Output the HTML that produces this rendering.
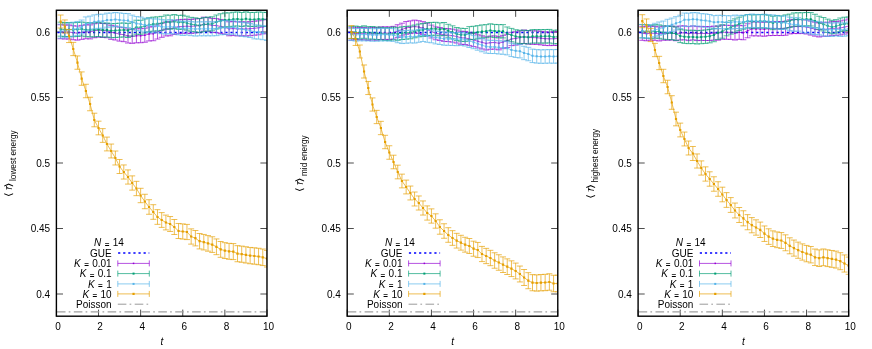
<!DOCTYPE html>
<html><head><meta charset="utf-8"><title>plots</title>
<style>
html,body{margin:0;padding:0;background:#fff;}
svg{display:block;will-change:transform;}
text{font-family:"Liberation Sans","DejaVu Sans",sans-serif;font-size:10px;fill:#000;}
</style></head><body>
<svg width="872" height="349" viewBox="0 0 872 349">
<rect width="872" height="349" fill="#fff"/>
<g>
<path d="M56.4 316.2v-6.6M56.4 10.25v6.6M98.52 316.2v-6.6M98.52 10.25v6.6M140.63 316.2v-6.6M140.63 10.25v6.6M182.75 316.2v-6.6M182.75 10.25v6.6M224.86 316.2v-6.6M224.86 10.25v6.6M266.98 316.2v-6.6M266.98 10.25v6.6M56.4 294h6.6M266.98 294h-6.6M56.4 228.5h6.6M266.98 228.5h-6.6M56.4 163h6.6M266.98 163h-6.6M56.4 97.5h6.6M266.98 97.5h-6.6M56.4 32h6.6M266.98 32h-6.6" stroke="#000" stroke-width="0.7" fill="none"/>
<clipPath id="c0"><rect x="56.4" y="10.25" width="210.58" height="305.95"/></clipPath><g clip-path="url(#c0)">
<line x1="57.4" y1="32.5" x2="266.98" y2="32.5" stroke="#0000ff" stroke-width="1.5" stroke-dasharray="2.2 2.89"/>
<path d="M60.61 24.74V38.74M57.61 24.74h6M57.61 38.74h6M64.82 25.04V39.04M61.82 25.04h6M61.82 39.04h6M69.03 24.97V38.97M66.03 24.97h6M66.03 38.97h6M73.25 25.75V39.75M70.25 25.75h6M70.25 39.75h6M77.46 26.13V40.13M74.46 26.13h6M74.46 40.13h6M81.67 25.35V39.35M78.67 25.35h6M78.67 39.35h6M85.88 24.76V38.76M82.88 24.76h6M82.88 38.76h6M90.09 24.93V38.93M87.09 24.93h6M87.09 38.93h6M94.3 23.76V37.76M91.3 23.76h6M91.3 37.76h6M98.52 23.11V37.11M95.52 23.11h6M95.52 37.11h6M102.73 23.5V37.5M99.73 23.5h6M99.73 37.5h6M106.94 23.72V37.72M103.94 23.72h6M103.94 37.72h6M111.15 25.34V39.34M108.15 25.34h6M108.15 39.34h6M115.36 26V40M112.36 26h6M112.36 40h6M119.57 27.14V41.14M116.57 27.14h6M116.57 41.14h6M123.79 27.68V41.68M120.79 27.68h6M120.79 41.68h6M128 29V43M125 29h6M125 43h6M132.21 29.34V43.34M129.21 29.34h6M129.21 43.34h6M136.42 28.81V42.81M133.42 28.81h6M133.42 42.81h6M140.63 28.74V42.74M137.63 28.74h6M137.63 42.74h6M144.84 28.24V42.24M141.84 28.24h6M141.84 42.24h6M149.06 26.96V40.96M146.06 26.96h6M146.06 40.96h6M153.27 26.72V40.72M150.27 26.72h6M150.27 40.72h6M157.48 25.04V39.04M154.48 25.04h6M154.48 39.04h6M161.69 23.3V37.3M158.69 23.3h6M158.69 37.3h6M165.9 21.94V35.94M162.9 21.94h6M162.9 35.94h6M170.11 21.82V35.82M167.11 21.82h6M167.11 35.82h6M174.32 20.48V34.48M171.32 20.48h6M171.32 34.48h6M178.54 19.71V33.71M175.54 19.71h6M175.54 33.71h6M182.75 19.38V33.38M179.75 19.38h6M179.75 33.38h6M186.96 19.21V33.21M183.96 19.21h6M183.96 33.21h6M191.17 19.42V33.42M188.17 19.42h6M188.17 33.42h6M195.38 18.89V32.89M192.38 18.89h6M192.38 32.89h6M199.59 18.6V32.6M196.59 18.6h6M196.59 32.6h6M203.81 17.15V31.15M200.81 17.15h6M200.81 31.15h6M208.02 17.58V31.58M205.02 17.58h6M205.02 31.58h6M212.23 18.4V32.4M209.23 18.4h6M209.23 32.4h6M216.44 18.6V32.6M213.44 18.6h6M213.44 32.6h6M220.65 19.47V33.47M217.65 19.47h6M217.65 33.47h6M224.86 20.39V34.39M221.86 20.39h6M221.86 34.39h6M229.08 21.79V35.79M226.08 21.79h6M226.08 35.79h6M233.29 21.55V35.55M230.29 21.55h6M230.29 35.55h6M237.5 21.94V35.94M234.5 21.94h6M234.5 35.94h6M241.71 21.75V35.75M238.71 21.75h6M238.71 35.75h6M245.92 22.01V36.01M242.92 22.01h6M242.92 36.01h6M250.13 21.73V35.73M247.13 21.73h6M247.13 35.73h6M254.35 21.25V35.25M251.35 21.25h6M251.35 35.25h6M258.56 20.8V34.8M255.56 20.8h6M255.56 34.8h6M262.77 19.92V33.92M259.77 19.92h6M259.77 33.92h6M266.98 19.2V33.2M263.98 19.2h6M263.98 33.2h6" stroke="#9400d3" stroke-width="0.68" fill="none"/>
<polyline points="60.61,31.74 64.82,32.04 69.03,31.97 73.25,32.75 77.46,33.13 81.67,32.35 85.88,31.76 90.09,31.93 94.3,30.76 98.52,30.11 102.73,30.5 106.94,30.72 111.15,32.34 115.36,33 119.57,34.14 123.79,34.68 128,36 132.21,36.34 136.42,35.81 140.63,35.74 144.84,35.24 149.06,33.96 153.27,33.72 157.48,32.04 161.69,30.3 165.9,28.94 170.11,28.82 174.32,27.48 178.54,26.71 182.75,26.38 186.96,26.21 191.17,26.42 195.38,25.89 199.59,25.6 203.81,24.15 208.02,24.58 212.23,25.4 216.44,25.6 220.65,26.47 224.86,27.39 229.08,28.79 233.29,28.55 237.5,28.94 241.71,28.75 245.92,29.01 250.13,28.73 254.35,28.25 258.56,27.8 262.77,26.92 266.98,26.2" stroke="#9400d3" stroke-width="0.68" fill="none"/>
<path d="M59.86 30.99h1.5v1.5h-1.5zM64.07 31.29h1.5v1.5h-1.5zM68.28 31.22h1.5v1.5h-1.5zM72.5 32h1.5v1.5h-1.5zM76.71 32.38h1.5v1.5h-1.5zM80.92 31.6h1.5v1.5h-1.5zM85.13 31.01h1.5v1.5h-1.5zM89.34 31.18h1.5v1.5h-1.5zM93.55 30.01h1.5v1.5h-1.5zM97.77 29.36h1.5v1.5h-1.5zM101.98 29.75h1.5v1.5h-1.5zM106.19 29.97h1.5v1.5h-1.5zM110.4 31.59h1.5v1.5h-1.5zM114.61 32.25h1.5v1.5h-1.5zM118.82 33.39h1.5v1.5h-1.5zM123.04 33.93h1.5v1.5h-1.5zM127.25 35.25h1.5v1.5h-1.5zM131.46 35.59h1.5v1.5h-1.5zM135.67 35.06h1.5v1.5h-1.5zM139.88 34.99h1.5v1.5h-1.5zM144.09 34.49h1.5v1.5h-1.5zM148.31 33.21h1.5v1.5h-1.5zM152.52 32.97h1.5v1.5h-1.5zM156.73 31.29h1.5v1.5h-1.5zM160.94 29.55h1.5v1.5h-1.5zM165.15 28.19h1.5v1.5h-1.5zM169.36 28.07h1.5v1.5h-1.5zM173.57 26.73h1.5v1.5h-1.5zM177.79 25.96h1.5v1.5h-1.5zM182 25.63h1.5v1.5h-1.5zM186.21 25.46h1.5v1.5h-1.5zM190.42 25.67h1.5v1.5h-1.5zM194.63 25.14h1.5v1.5h-1.5zM198.84 24.85h1.5v1.5h-1.5zM203.06 23.4h1.5v1.5h-1.5zM207.27 23.83h1.5v1.5h-1.5zM211.48 24.65h1.5v1.5h-1.5zM215.69 24.85h1.5v1.5h-1.5zM219.9 25.72h1.5v1.5h-1.5zM224.11 26.64h1.5v1.5h-1.5zM228.33 28.04h1.5v1.5h-1.5zM232.54 27.8h1.5v1.5h-1.5zM236.75 28.19h1.5v1.5h-1.5zM240.96 28h1.5v1.5h-1.5zM245.17 28.26h1.5v1.5h-1.5zM249.38 27.98h1.5v1.5h-1.5zM253.6 27.5h1.5v1.5h-1.5zM257.81 27.05h1.5v1.5h-1.5zM262.02 26.17h1.5v1.5h-1.5zM266.23 25.45h1.5v1.5h-1.5z" fill="#9400d3"/>
<path d="M60.61 22.18V36.18M57.61 22.18h6M57.61 36.18h6M64.82 22.52V36.52M61.82 22.52h6M61.82 36.52h6M69.03 22.53V36.53M66.03 22.53h6M66.03 36.53h6M73.25 22.73V36.73M70.25 22.73h6M70.25 36.73h6M77.46 22.47V36.47M74.46 22.47h6M74.46 36.47h6M81.67 22.01V36.01M78.67 22.01h6M78.67 36.01h6M85.88 22.73V36.73M82.88 22.73h6M82.88 36.73h6M90.09 22.86V36.86M87.09 22.86h6M87.09 36.86h6M94.3 22.84V36.84M91.3 22.84h6M91.3 36.84h6M98.52 22.57V36.57M95.52 22.57h6M95.52 36.57h6M102.73 23.06V37.06M99.73 23.06h6M99.73 37.06h6M106.94 23.02V37.02M103.94 23.02h6M103.94 37.02h6M111.15 23.73V37.73M108.15 23.73h6M108.15 37.73h6M115.36 23.47V37.47M112.36 23.47h6M112.36 37.47h6M119.57 23.18V37.18M116.57 23.18h6M116.57 37.18h6M123.79 22.96V36.96M120.79 22.96h6M120.79 36.96h6M128 23.46V37.46M125 23.46h6M125 37.46h6M132.21 22.1V36.1M129.21 22.1h6M129.21 36.1h6M136.42 20.23V34.23M133.42 20.23h6M133.42 34.23h6M140.63 20.3V34.3M137.63 20.3h6M137.63 34.3h6M144.84 19.01V33.01M141.84 19.01h6M141.84 33.01h6M149.06 17.78V31.78M146.06 17.78h6M146.06 31.78h6M153.27 17.11V31.11M150.27 17.11h6M150.27 31.11h6M157.48 16.86V30.86M154.48 16.86h6M154.48 30.86h6M161.69 16.37V30.37M158.69 16.37h6M158.69 30.37h6M165.9 15.01V29.01M162.9 15.01h6M162.9 29.01h6M170.11 15.18V29.18M167.11 15.18h6M167.11 29.18h6M174.32 14.56V28.56M171.32 14.56h6M171.32 28.56h6M178.54 15.36V29.36M175.54 15.36h6M175.54 29.36h6M182.75 15.2V29.2M179.75 15.2h6M179.75 29.2h6M186.96 16.16V30.16M183.96 16.16h6M183.96 30.16h6M191.17 17.33V31.33M188.17 17.33h6M188.17 31.33h6M195.38 17.84V31.84M192.38 17.84h6M192.38 31.84h6M199.59 18.47V32.47M196.59 18.47h6M196.59 32.47h6M203.81 17.61V31.61M200.81 17.61h6M200.81 31.61h6M208.02 17.08V31.08M205.02 17.08h6M205.02 31.08h6M212.23 16.79V30.79M209.23 16.79h6M209.23 30.79h6M216.44 15.03V29.03M213.44 15.03h6M213.44 29.03h6M220.65 13.76V27.76M217.65 13.76h6M217.65 27.76h6M224.86 12.91V26.91M221.86 12.91h6M221.86 26.91h6M229.08 12.85V26.85M226.08 12.85h6M226.08 26.85h6M233.29 12.24V26.24M230.29 12.24h6M230.29 26.24h6M237.5 11.93V25.93M234.5 11.93h6M234.5 25.93h6M241.71 12.5V26.5M238.71 12.5h6M238.71 26.5h6M245.92 11.81V25.81M242.92 11.81h6M242.92 25.81h6M250.13 12.46V26.46M247.13 12.46h6M247.13 26.46h6M254.35 12.43V26.43M251.35 12.43h6M251.35 26.43h6M258.56 11.99V25.99M255.56 11.99h6M255.56 25.99h6M262.77 12.22V26.22M259.77 12.22h6M259.77 26.22h6M266.98 12.52V26.52M263.98 12.52h6M263.98 26.52h6" stroke="#009e73" stroke-width="0.68" fill="none"/>
<polyline points="60.61,29.18 64.82,29.52 69.03,29.53 73.25,29.73 77.46,29.47 81.67,29.01 85.88,29.73 90.09,29.86 94.3,29.84 98.52,29.57 102.73,30.06 106.94,30.02 111.15,30.73 115.36,30.47 119.57,30.18 123.79,29.96 128,30.46 132.21,29.1 136.42,27.23 140.63,27.3 144.84,26.01 149.06,24.78 153.27,24.11 157.48,23.86 161.69,23.37 165.9,22.01 170.11,22.18 174.32,21.56 178.54,22.36 182.75,22.2 186.96,23.16 191.17,24.33 195.38,24.84 199.59,25.47 203.81,24.61 208.02,24.08 212.23,23.79 216.44,22.03 220.65,20.76 224.86,19.91 229.08,19.85 233.29,19.24 237.5,18.93 241.71,19.5 245.92,18.81 250.13,19.46 254.35,19.43 258.56,18.99 262.77,19.22 266.98,19.52" stroke="#009e73" stroke-width="0.68" fill="none"/>
<path d="M59.61 28.18h2.0v2.0h-2.0zM63.82 28.52h2.0v2.0h-2.0zM68.03 28.53h2.0v2.0h-2.0zM72.25 28.73h2.0v2.0h-2.0zM76.46 28.47h2.0v2.0h-2.0zM80.67 28.01h2.0v2.0h-2.0zM84.88 28.73h2.0v2.0h-2.0zM89.09 28.86h2.0v2.0h-2.0zM93.3 28.84h2.0v2.0h-2.0zM97.52 28.57h2.0v2.0h-2.0zM101.73 29.06h2.0v2.0h-2.0zM105.94 29.02h2.0v2.0h-2.0zM110.15 29.73h2.0v2.0h-2.0zM114.36 29.47h2.0v2.0h-2.0zM118.57 29.18h2.0v2.0h-2.0zM122.79 28.96h2.0v2.0h-2.0zM127 29.46h2.0v2.0h-2.0zM131.21 28.1h2.0v2.0h-2.0zM135.42 26.23h2.0v2.0h-2.0zM139.63 26.3h2.0v2.0h-2.0zM143.84 25.01h2.0v2.0h-2.0zM148.06 23.78h2.0v2.0h-2.0zM152.27 23.11h2.0v2.0h-2.0zM156.48 22.86h2.0v2.0h-2.0zM160.69 22.37h2.0v2.0h-2.0zM164.9 21.01h2.0v2.0h-2.0zM169.11 21.18h2.0v2.0h-2.0zM173.32 20.56h2.0v2.0h-2.0zM177.54 21.36h2.0v2.0h-2.0zM181.75 21.2h2.0v2.0h-2.0zM185.96 22.16h2.0v2.0h-2.0zM190.17 23.33h2.0v2.0h-2.0zM194.38 23.84h2.0v2.0h-2.0zM198.59 24.47h2.0v2.0h-2.0zM202.81 23.61h2.0v2.0h-2.0zM207.02 23.08h2.0v2.0h-2.0zM211.23 22.79h2.0v2.0h-2.0zM215.44 21.03h2.0v2.0h-2.0zM219.65 19.76h2.0v2.0h-2.0zM223.86 18.91h2.0v2.0h-2.0zM228.08 18.85h2.0v2.0h-2.0zM232.29 18.24h2.0v2.0h-2.0zM236.5 17.93h2.0v2.0h-2.0zM240.71 18.5h2.0v2.0h-2.0zM244.92 17.81h2.0v2.0h-2.0zM249.13 18.46h2.0v2.0h-2.0zM253.35 18.43h2.0v2.0h-2.0zM257.56 17.99h2.0v2.0h-2.0zM261.77 18.22h2.0v2.0h-2.0zM265.98 18.52h2.0v2.0h-2.0z" fill="#009e73"/>
<path d="M60.61 24.14V38.14M57.61 24.14h6M57.61 38.14h6M64.82 23.7V37.7M61.82 23.7h6M61.82 37.7h6M69.03 23.06V37.06M66.03 23.06h6M66.03 37.06h6M73.25 22.2V36.2M70.25 22.2h6M70.25 36.2h6M77.46 21.44V35.44M74.46 21.44h6M74.46 35.44h6M81.67 20.01V34.01M78.67 20.01h6M78.67 34.01h6M85.88 16.93V30.93M82.88 16.93h6M82.88 30.93h6M90.09 16.09V30.09M87.09 16.09h6M87.09 30.09h6M94.3 14.87V28.87M91.3 14.87h6M91.3 28.87h6M98.52 14.3V28.3M95.52 14.3h6M95.52 28.3h6M102.73 14.2V28.2M99.73 14.2h6M99.73 28.2h6M106.94 13.12V27.12M103.94 13.12h6M103.94 27.12h6M111.15 13.05V27.05M108.15 13.05h6M108.15 27.05h6M115.36 12.51V26.51M112.36 12.51h6M112.36 26.51h6M119.57 12.92V26.92M116.57 12.92h6M116.57 26.92h6M123.79 13.42V27.42M120.79 13.42h6M120.79 27.42h6M128 13.61V27.61M125 13.61h6M125 27.61h6M132.21 15.14V29.14M129.21 15.14h6M129.21 29.14h6M136.42 16.55V30.55M133.42 16.55h6M133.42 30.55h6M140.63 17.06V31.06M137.63 17.06h6M137.63 31.06h6M144.84 18.1V32.1M141.84 18.1h6M141.84 32.1h6M149.06 18.28V32.28M146.06 18.28h6M146.06 32.28h6M153.27 18.88V32.88M150.27 18.88h6M150.27 32.88h6M157.48 18.97V32.97M154.48 18.97h6M154.48 32.97h6M161.69 19.71V33.71M158.69 19.71h6M158.69 33.71h6M165.9 20.07V34.07M162.9 20.07h6M162.9 34.07h6M170.11 19.66V33.66M167.11 19.66h6M167.11 33.66h6M174.32 19.99V33.99M171.32 19.99h6M171.32 33.99h6M178.54 20.89V34.89M175.54 20.89h6M175.54 34.89h6M182.75 21.46V35.46M179.75 21.46h6M179.75 35.46h6M186.96 21.1V35.1M183.96 21.1h6M183.96 35.1h6M191.17 21.67V35.67M188.17 21.67h6M188.17 35.67h6M195.38 22.06V36.06M192.38 22.06h6M192.38 36.06h6M199.59 21.82V35.82M196.59 21.82h6M196.59 35.82h6M203.81 21.86V35.86M200.81 21.86h6M200.81 35.86h6M208.02 21.81V35.81M205.02 21.81h6M205.02 35.81h6M212.23 21.87V35.87M209.23 21.87h6M209.23 35.87h6M216.44 21.67V35.67M213.44 21.67h6M213.44 35.67h6M220.65 20.8V34.8M217.65 20.8h6M217.65 34.8h6M224.86 20.6V34.6M221.86 20.6h6M221.86 34.6h6M229.08 20.8V34.8M226.08 20.8h6M226.08 34.8h6M233.29 20.12V34.12M230.29 20.12h6M230.29 34.12h6M237.5 21.28V35.28M234.5 21.28h6M234.5 35.28h6M241.71 22.37V36.37M238.71 22.37h6M238.71 36.37h6M245.92 22.81V36.81M242.92 22.81h6M242.92 36.81h6M250.13 23.49V37.49M247.13 23.49h6M247.13 37.49h6M254.35 24.88V38.88M251.35 24.88h6M251.35 38.88h6M258.56 25.08V39.08M255.56 25.08h6M255.56 39.08h6M262.77 25.69V39.69M259.77 25.69h6M259.77 39.69h6M266.98 26.44V40.44M263.98 26.44h6M263.98 40.44h6" stroke="#56b4e9" stroke-width="0.68" fill="none"/>
<polyline points="60.61,31.14 64.82,30.7 69.03,30.06 73.25,29.2 77.46,28.44 81.67,27.01 85.88,23.93 90.09,23.09 94.3,21.87 98.52,21.3 102.73,21.2 106.94,20.12 111.15,20.05 115.36,19.51 119.57,19.92 123.79,20.42 128,20.61 132.21,22.14 136.42,23.55 140.63,24.06 144.84,25.1 149.06,25.28 153.27,25.88 157.48,25.97 161.69,26.71 165.9,27.07 170.11,26.66 174.32,26.99 178.54,27.89 182.75,28.46 186.96,28.1 191.17,28.67 195.38,29.06 199.59,28.82 203.81,28.86 208.02,28.81 212.23,28.87 216.44,28.67 220.65,27.8 224.86,27.6 229.08,27.8 233.29,27.12 237.5,28.28 241.71,29.37 245.92,29.81 250.13,30.49 254.35,31.88 258.56,32.08 262.77,32.69 266.98,33.44" stroke="#56b4e9" stroke-width="0.68" fill="none"/>
<path d="M59.61 30.14h2.0v2.0h-2.0zM63.82 29.7h2.0v2.0h-2.0zM68.03 29.06h2.0v2.0h-2.0zM72.25 28.2h2.0v2.0h-2.0zM76.46 27.44h2.0v2.0h-2.0zM80.67 26.01h2.0v2.0h-2.0zM84.88 22.93h2.0v2.0h-2.0zM89.09 22.09h2.0v2.0h-2.0zM93.3 20.87h2.0v2.0h-2.0zM97.52 20.3h2.0v2.0h-2.0zM101.73 20.2h2.0v2.0h-2.0zM105.94 19.12h2.0v2.0h-2.0zM110.15 19.05h2.0v2.0h-2.0zM114.36 18.51h2.0v2.0h-2.0zM118.57 18.92h2.0v2.0h-2.0zM122.79 19.42h2.0v2.0h-2.0zM127 19.61h2.0v2.0h-2.0zM131.21 21.14h2.0v2.0h-2.0zM135.42 22.55h2.0v2.0h-2.0zM139.63 23.06h2.0v2.0h-2.0zM143.84 24.1h2.0v2.0h-2.0zM148.06 24.28h2.0v2.0h-2.0zM152.27 24.88h2.0v2.0h-2.0zM156.48 24.97h2.0v2.0h-2.0zM160.69 25.71h2.0v2.0h-2.0zM164.9 26.07h2.0v2.0h-2.0zM169.11 25.66h2.0v2.0h-2.0zM173.32 25.99h2.0v2.0h-2.0zM177.54 26.89h2.0v2.0h-2.0zM181.75 27.46h2.0v2.0h-2.0zM185.96 27.1h2.0v2.0h-2.0zM190.17 27.67h2.0v2.0h-2.0zM194.38 28.06h2.0v2.0h-2.0zM198.59 27.82h2.0v2.0h-2.0zM202.81 27.86h2.0v2.0h-2.0zM207.02 27.81h2.0v2.0h-2.0zM211.23 27.87h2.0v2.0h-2.0zM215.44 27.67h2.0v2.0h-2.0zM219.65 26.8h2.0v2.0h-2.0zM223.86 26.6h2.0v2.0h-2.0zM228.08 26.8h2.0v2.0h-2.0zM232.29 26.12h2.0v2.0h-2.0zM236.5 27.28h2.0v2.0h-2.0zM240.71 28.37h2.0v2.0h-2.0zM244.92 28.81h2.0v2.0h-2.0zM249.13 29.49h2.0v2.0h-2.0zM253.35 30.88h2.0v2.0h-2.0zM257.56 31.08h2.0v2.0h-2.0zM261.77 31.69h2.0v2.0h-2.0zM265.98 32.44h2.0v2.0h-2.0z" fill="#56b4e9"/>
<path d="M60.61 15V28M57.61 15h6M57.61 28h6M64.82 19.96V33.04M61.82 19.96h6M61.82 33.04h6M69.03 29.43V42.57M66.03 29.43h6M66.03 42.57h6M73.25 42.39V55.61M70.25 42.39h6M70.25 55.61h6M77.46 55.95V69.25M74.46 55.95h6M74.46 69.25h6M81.67 71.92V85.28M78.67 71.92h6M78.67 85.28h6M85.88 84.28V97.72M82.88 84.28h6M82.88 97.72h6M90.09 97.24V110.76M87.09 97.24h6M87.09 110.76h6M94.3 113.21V126.79M91.3 113.21h6M91.3 126.79h6M98.52 121.17V134.83M95.52 121.17h6M95.52 134.83h6M102.73 128.63V142.37M99.73 128.63h6M99.73 142.37h6M106.94 137.1V150.9M103.94 137.1h6M103.94 150.9h6M111.15 144.06V157.94M108.15 144.06h6M108.15 157.94h6M115.36 151.02V164.98M112.36 151.02h6M112.36 164.98h6M119.57 159.49V173.51M116.57 159.49h6M116.57 173.51h6M123.79 164.95V179.05M120.79 164.95h6M120.79 179.05h6M128 169.91V184.09M125 169.91h6M125 184.09h6M132.21 175.88V190.12M129.21 175.88h6M129.21 190.12h6M136.42 181.34V195.66M133.42 181.34h6M133.42 195.66h6M140.63 188.3V202.7M137.63 188.3h6M137.63 202.7h6M144.84 194.27V208.73M141.84 194.27h6M141.84 208.73h6M149.06 199.73V214.27M146.06 199.73h6M146.06 214.27h6M153.27 204.69V219.31M150.27 204.69h6M150.27 219.31h6M157.48 209.66V224.34M154.48 209.66h6M154.48 224.34h6M161.69 212.62V227.38M158.69 212.62h6M158.69 227.38h6M165.9 215.08V229.92M162.9 215.08h6M162.9 229.92h6M170.11 216.54V231.46M167.11 216.54h6M167.11 231.46h6M174.32 219.51V234.49M171.32 219.51h6M171.32 234.49h6M178.54 223.47V238.53M175.54 223.47h6M175.54 238.53h6M182.75 223.93V239.07M179.75 223.93h6M179.75 239.07h6M186.96 224.4V239.6M183.96 224.4h6M183.96 239.6h6M191.17 228.86V244.14M188.17 228.86h6M188.17 244.14h6M195.38 230.52V245.88M192.38 230.52h6M192.38 245.88h6M199.59 233.49V248.91M196.59 233.49h6M196.59 248.91h6M203.81 234.45V249.95M200.81 234.45h6M200.81 249.95h6M208.02 235.61V251.19M205.02 235.61h6M205.02 251.19h6M212.23 236.78V252.42M209.23 236.78h6M209.23 252.42h6M216.44 238.94V254.66M213.44 238.94h6M213.44 254.66h6M220.65 241.5V257.3M217.65 241.5h6M217.65 257.3h6M224.86 242.67V258.53M221.86 242.67h6M221.86 258.53h6M229.08 243.33V259.27M226.08 243.33h6M226.08 259.27h6M233.29 243.59V259.61M230.29 243.59h6M230.29 259.61h6M237.5 245.66V261.74M234.5 245.66h6M234.5 261.74h6M241.71 246.12V262.28M238.71 246.12h6M238.71 262.28h6M245.92 246.78V263.02M242.92 246.78h6M242.92 263.02h6M250.13 247.45V263.75M247.13 247.45h6M247.13 263.75h6M254.35 247.81V264.19M251.35 247.81h6M251.35 264.19h6M258.56 248.27V264.73M255.56 248.27h6M255.56 264.73h6M262.77 249.04V265.56M259.77 249.04h6M259.77 265.56h6M266.98 250.4V267M263.98 250.4h6M263.98 267h6" stroke="#e69f00" stroke-width="0.68" fill="none"/>
<polyline points="60.61,21.5 64.82,26.5 69.03,36 73.25,49 77.46,62.6 81.67,78.6 85.88,91 90.09,104 94.3,120 98.52,128 102.73,135.5 106.94,144 111.15,151 115.36,158 119.57,166.5 123.79,172 128,177 132.21,183 136.42,188.5 140.63,195.5 144.84,201.5 149.06,207 153.27,212 157.48,217 161.69,220 165.9,222.5 170.11,224 174.32,227 178.54,231 182.75,231.5 186.96,232 191.17,236.5 195.38,238.2 199.59,241.2 203.81,242.2 208.02,243.4 212.23,244.6 216.44,246.8 220.65,249.4 224.86,250.6 229.08,251.3 233.29,251.6 237.5,253.7 241.71,254.2 245.92,254.9 250.13,255.6 254.35,256 258.56,256.5 262.77,257.3 266.98,258.7" stroke="#e69f00" stroke-width="0.68" fill="none"/>
<path d="M59.51 20.4h2.2v2.2h-2.2zM63.72 25.4h2.2v2.2h-2.2zM67.93 34.9h2.2v2.2h-2.2zM72.15 47.9h2.2v2.2h-2.2zM76.36 61.5h2.2v2.2h-2.2zM80.57 77.5h2.2v2.2h-2.2zM84.78 89.9h2.2v2.2h-2.2zM88.99 102.9h2.2v2.2h-2.2zM93.2 118.9h2.2v2.2h-2.2zM97.42 126.9h2.2v2.2h-2.2zM101.63 134.4h2.2v2.2h-2.2zM105.84 142.9h2.2v2.2h-2.2zM110.05 149.9h2.2v2.2h-2.2zM114.26 156.9h2.2v2.2h-2.2zM118.47 165.4h2.2v2.2h-2.2zM122.69 170.9h2.2v2.2h-2.2zM126.9 175.9h2.2v2.2h-2.2zM131.11 181.9h2.2v2.2h-2.2zM135.32 187.4h2.2v2.2h-2.2zM139.53 194.4h2.2v2.2h-2.2zM143.74 200.4h2.2v2.2h-2.2zM147.96 205.9h2.2v2.2h-2.2zM152.17 210.9h2.2v2.2h-2.2zM156.38 215.9h2.2v2.2h-2.2zM160.59 218.9h2.2v2.2h-2.2zM164.8 221.4h2.2v2.2h-2.2zM169.01 222.9h2.2v2.2h-2.2zM173.22 225.9h2.2v2.2h-2.2zM177.44 229.9h2.2v2.2h-2.2zM181.65 230.4h2.2v2.2h-2.2zM185.86 230.9h2.2v2.2h-2.2zM190.07 235.4h2.2v2.2h-2.2zM194.28 237.1h2.2v2.2h-2.2zM198.49 240.1h2.2v2.2h-2.2zM202.71 241.1h2.2v2.2h-2.2zM206.92 242.3h2.2v2.2h-2.2zM211.13 243.5h2.2v2.2h-2.2zM215.34 245.7h2.2v2.2h-2.2zM219.55 248.3h2.2v2.2h-2.2zM223.76 249.5h2.2v2.2h-2.2zM227.98 250.2h2.2v2.2h-2.2zM232.19 250.5h2.2v2.2h-2.2zM236.4 252.6h2.2v2.2h-2.2zM240.61 253.1h2.2v2.2h-2.2zM244.82 253.8h2.2v2.2h-2.2zM249.03 254.5h2.2v2.2h-2.2zM253.25 254.9h2.2v2.2h-2.2zM257.46 255.4h2.2v2.2h-2.2zM261.67 256.2h2.2v2.2h-2.2zM265.88 257.6h2.2v2.2h-2.2z" fill="#e69f00"/>
</g>
<line x1="56.4" y1="311.9" x2="266.98" y2="311.9" stroke="#a0a0a0" stroke-width="1.1" stroke-dasharray="8.6 3.2 1.7 3.4" stroke-dashoffset="-0.5"/>
<rect x="56.4" y="10.25" width="210.58" height="305.95" fill="none" stroke="#000" stroke-width="1.4"/>
<text x="58" y="330.3" text-anchor="middle">0</text>
<text x="100.12" y="330.3" text-anchor="middle">2</text>
<text x="142.23" y="330.3" text-anchor="middle">4</text>
<text x="184.35" y="330.3" text-anchor="middle">6</text>
<text x="226.46" y="330.3" text-anchor="middle">8</text>
<text x="268.58" y="330.3" text-anchor="middle">10</text>
<text x="50.1" y="297.9" text-anchor="end">0.4</text>
<text x="50.1" y="232.4" text-anchor="end">0.45</text>
<text x="50.1" y="166.9" text-anchor="end">0.5</text>
<text x="50.1" y="101.4" text-anchor="end">0.55</text>
<text x="50.1" y="35.9" text-anchor="end">0.6</text>
<text x="161.8" y="345.1" text-anchor="middle" font-style="italic">t</text>
<g transform="translate(12.1,195.69) rotate(-90)">
<text transform="translate(-1.6,0) scale(1.3,1)">⟨</text>
<text x="6.3" y="0" font-style="italic">r</text>
<text x="5.6" y="-3.2" style="font-size:7px">~</text>
<text transform="translate(8.3,0) scale(1.3,1)">⟩</text>
<text transform="translate(14.7,4.3) scale(1,1.15)" style="font-size:8.2px">lowest energy</text>
</g>
<text x="109" y="246.4" text-anchor="middle"><tspan font-style="italic">N</tspan><tspan style="font-size:8px;font-weight:bold" dx="3.4" dy="0.3">=</tspan><tspan dx="3.4" dy="-0.3">14</tspan></text>
<text x="111.7" y="256.7" text-anchor="end">GUE</text>
<line x1="118.1" y1="253.1" x2="149.3" y2="253.1" stroke="#0000ff" stroke-width="1.5" stroke-dasharray="2.2 2.89"/>
<text x="111.7" y="267" text-anchor="end"><tspan font-style="italic">K</tspan><tspan style="font-size:8px;font-weight:bold" dx="3.4" dy="0.3">=</tspan><tspan dx="3.4" dy="-0.3">0.01</tspan></text>
<path d="M117.8 263.4H149.3M117.8 260.4v6M149.3 260.4v6" stroke="#9400d3" stroke-width="0.68" fill="none"/>
<rect x="132.8" y="262.65" width="1.5" height="1.5" fill="#9400d3"/>
<text x="111.7" y="277.2" text-anchor="end"><tspan font-style="italic">K</tspan><tspan style="font-size:8px;font-weight:bold" dx="3.4" dy="0.3">=</tspan><tspan dx="3.4" dy="-0.3">0.1</tspan></text>
<path d="M117.8 273.6H149.3M117.8 270.6v6M149.3 270.6v6" stroke="#009e73" stroke-width="0.68" fill="none"/>
<rect x="132.55" y="272.6" width="2.0" height="2.0" fill="#009e73"/>
<text x="111.7" y="287.5" text-anchor="end"><tspan font-style="italic">K</tspan><tspan style="font-size:8px;font-weight:bold" dx="3.4" dy="0.3">=</tspan><tspan dx="3.4" dy="-0.3">1</tspan></text>
<path d="M117.8 283.9H149.3M117.8 280.9v6M149.3 280.9v6" stroke="#56b4e9" stroke-width="0.68" fill="none"/>
<rect x="132.55" y="282.9" width="2.0" height="2.0" fill="#56b4e9"/>
<text x="111.7" y="297.5" text-anchor="end"><tspan font-style="italic">K</tspan><tspan style="font-size:8px;font-weight:bold" dx="3.4" dy="0.3">=</tspan><tspan dx="3.4" dy="-0.3">10</tspan></text>
<path d="M117.8 293.9H149.3M117.8 290.9v6M149.3 290.9v6" stroke="#e69f00" stroke-width="0.68" fill="none"/>
<rect x="132.45" y="292.8" width="2.2" height="2.2" fill="#e69f00"/>
<text x="111.7" y="307.8" text-anchor="end">Poisson</text>
<line x1="117.8" y1="304.2" x2="149.3" y2="304.2" stroke="#707070" stroke-width="0.7" stroke-dasharray="8.6 3.2 1.7 3.4"/>
</g>
<g>
<path d="M347.2 316.2v-6.6M347.2 10.25v6.6M389.32 316.2v-6.6M389.32 10.25v6.6M431.43 316.2v-6.6M431.43 10.25v6.6M473.55 316.2v-6.6M473.55 10.25v6.6M515.66 316.2v-6.6M515.66 10.25v6.6M557.78 316.2v-6.6M557.78 10.25v6.6M347.2 294h6.6M557.78 294h-6.6M347.2 228.5h6.6M557.78 228.5h-6.6M347.2 163h6.6M557.78 163h-6.6M347.2 97.5h6.6M557.78 97.5h-6.6M347.2 32h6.6M557.78 32h-6.6" stroke="#000" stroke-width="0.7" fill="none"/>
<clipPath id="c1"><rect x="347.2" y="10.25" width="210.58" height="305.95"/></clipPath><g clip-path="url(#c1)">
<line x1="348.2" y1="32.5" x2="557.78" y2="32.5" stroke="#0000ff" stroke-width="1.5" stroke-dasharray="2.2 2.89"/>
<path d="M351.41 27.8V40.2M348.41 27.8h6M348.41 40.2h6M355.62 27.19V39.61M352.62 27.19h6M352.62 39.61h6M359.83 27.4V39.85M356.83 27.4h6M356.83 39.85h6M364.05 27.4V39.87M361.05 27.4h6M361.05 39.87h6M368.26 27.88V40.38M365.26 27.88h6M365.26 40.38h6M372.47 27.44V39.96M369.47 27.44h6M369.47 39.96h6M376.68 27.74V40.29M373.68 27.74h6M373.68 40.29h6M380.89 26.88V39.45M377.89 26.88h6M377.89 39.45h6M385.1 26.81V39.41M382.1 26.81h6M382.1 39.41h6M389.32 26.84V39.46M386.32 26.84h6M386.32 39.46h6M393.53 26.36V39M390.53 26.36h6M390.53 39h6M397.74 24.73V37.4M394.74 24.73h6M394.74 37.4h6M401.95 23.18V35.88M398.95 23.18h6M398.95 35.88h6M406.16 21.55V34.27M403.16 21.55h6M403.16 34.27h6M410.37 20.87V33.61M407.37 20.87h6M407.37 33.61h6M414.59 20.11V32.87M411.59 20.11h6M411.59 32.87h6M418.8 20.71V33.5M415.8 20.71h6M415.8 33.5h6M423.01 21.67V34.49M420.01 21.67h6M420.01 34.49h6M427.22 23.18V36.02M424.22 23.18h6M424.22 36.02h6M431.43 25.13V37.99M428.43 25.13h6M428.43 37.99h6M435.64 26.86V39.75M432.64 26.86h6M432.64 39.75h6M439.86 27.57V40.49M436.86 27.57h6M436.86 40.49h6M444.07 28.45V41.39M441.07 28.45h6M441.07 41.39h6M448.28 28.65V41.61M445.28 28.65h6M445.28 41.61h6M452.49 29.14V42.12M449.49 29.14h6M449.49 42.12h6M456.7 30.03V43.04M453.7 30.03h6M453.7 43.04h6M460.91 31.24V44.27M457.91 31.24h6M457.91 44.27h6M465.12 31.45V44.51M462.12 31.45h6M462.12 44.51h6M469.34 32.34V45.43M466.34 32.34h6M466.34 45.43h6M473.55 33.36V46.47M470.55 33.36h6M470.55 46.47h6M477.76 34.75V47.89M474.76 34.75h6M474.76 47.89h6M481.97 35.79V48.95M478.97 35.79h6M478.97 48.95h6M486.18 36.83V50.01M483.18 36.83h6M483.18 50.01h6M490.39 36.05V49.26M487.39 36.05h6M487.39 49.26h6M494.61 35.89V49.12M491.61 35.89h6M491.61 49.12h6M498.82 36.61V49.86M495.82 36.61h6M495.82 49.86h6M503.03 35.36V48.65M500.03 35.36h6M500.03 48.65h6M507.24 34.22V47.52M504.24 34.22h6M504.24 47.52h6M511.45 32.32V45.65M508.45 32.32h6M508.45 45.65h6M515.66 31.77V45.13M512.66 31.77h6M512.66 45.13h6M519.88 30.88V44.26M516.88 30.88h6M516.88 44.26h6M524.09 30.03V43.44M521.09 30.03h6M521.09 43.44h6M528.3 30.64V44.07M525.3 30.64h6M525.3 44.07h6M532.51 30.89V44.34M529.51 30.89h6M529.51 44.34h6M536.72 30.92V44.4M533.72 30.92h6M533.72 44.4h6M540.93 31.38V44.88M537.93 31.38h6M537.93 44.88h6M545.15 31.89V45.42M542.15 31.89h6M542.15 45.42h6M549.36 32.07V45.62M546.36 32.07h6M546.36 45.62h6M553.57 31.94V45.52M550.57 31.94h6M550.57 45.52h6M557.78 31.77V45.37M554.78 31.77h6M554.78 45.37h6" stroke="#9400d3" stroke-width="0.68" fill="none"/>
<polyline points="351.41,34 355.62,33.4 359.83,33.62 364.05,33.63 368.26,34.13 372.47,33.7 376.68,34.02 380.89,33.17 385.1,33.11 389.32,33.15 393.53,32.68 397.74,31.07 401.95,29.53 406.16,27.91 410.37,27.24 414.59,26.49 418.8,27.11 423.01,28.08 427.22,29.6 431.43,31.56 435.64,33.31 439.86,34.03 444.07,34.92 448.28,35.13 452.49,35.63 456.7,36.54 460.91,37.76 465.12,37.98 469.34,38.88 473.55,39.92 477.76,41.32 481.97,42.37 486.18,43.42 490.39,42.66 494.61,42.5 498.82,43.23 503.03,42 507.24,40.87 511.45,38.98 515.66,38.45 519.88,37.57 524.09,36.74 528.3,37.35 532.51,37.62 536.72,37.66 540.93,38.13 545.15,38.65 549.36,38.84 553.57,38.73 557.78,38.57" stroke="#9400d3" stroke-width="0.68" fill="none"/>
<path d="M350.66 33.25h1.5v1.5h-1.5zM354.87 32.65h1.5v1.5h-1.5zM359.08 32.87h1.5v1.5h-1.5zM363.3 32.88h1.5v1.5h-1.5zM367.51 33.38h1.5v1.5h-1.5zM371.72 32.95h1.5v1.5h-1.5zM375.93 33.27h1.5v1.5h-1.5zM380.14 32.42h1.5v1.5h-1.5zM384.35 32.36h1.5v1.5h-1.5zM388.57 32.4h1.5v1.5h-1.5zM392.78 31.93h1.5v1.5h-1.5zM396.99 30.32h1.5v1.5h-1.5zM401.2 28.78h1.5v1.5h-1.5zM405.41 27.16h1.5v1.5h-1.5zM409.62 26.49h1.5v1.5h-1.5zM413.84 25.74h1.5v1.5h-1.5zM418.05 26.36h1.5v1.5h-1.5zM422.26 27.33h1.5v1.5h-1.5zM426.47 28.85h1.5v1.5h-1.5zM430.68 30.81h1.5v1.5h-1.5zM434.89 32.56h1.5v1.5h-1.5zM439.11 33.28h1.5v1.5h-1.5zM443.32 34.17h1.5v1.5h-1.5zM447.53 34.38h1.5v1.5h-1.5zM451.74 34.88h1.5v1.5h-1.5zM455.95 35.79h1.5v1.5h-1.5zM460.16 37.01h1.5v1.5h-1.5zM464.37 37.23h1.5v1.5h-1.5zM468.59 38.13h1.5v1.5h-1.5zM472.8 39.17h1.5v1.5h-1.5zM477.01 40.57h1.5v1.5h-1.5zM481.22 41.62h1.5v1.5h-1.5zM485.43 42.67h1.5v1.5h-1.5zM489.64 41.91h1.5v1.5h-1.5zM493.86 41.75h1.5v1.5h-1.5zM498.07 42.48h1.5v1.5h-1.5zM502.28 41.25h1.5v1.5h-1.5zM506.49 40.12h1.5v1.5h-1.5zM510.7 38.23h1.5v1.5h-1.5zM514.91 37.7h1.5v1.5h-1.5zM519.13 36.82h1.5v1.5h-1.5zM523.34 35.99h1.5v1.5h-1.5zM527.55 36.6h1.5v1.5h-1.5zM531.76 36.87h1.5v1.5h-1.5zM535.97 36.91h1.5v1.5h-1.5zM540.18 37.38h1.5v1.5h-1.5zM544.4 37.9h1.5v1.5h-1.5zM548.61 38.09h1.5v1.5h-1.5zM552.82 37.98h1.5v1.5h-1.5zM557.03 37.82h1.5v1.5h-1.5z" fill="#9400d3"/>
<path d="M351.41 26.39V38.79M348.41 26.39h6M348.41 38.79h6M355.62 26.07V38.5M352.62 26.07h6M352.62 38.5h6M359.83 26.59V39.03M356.83 26.59h6M356.83 39.03h6M364.05 25.81V38.28M361.05 25.81h6M361.05 38.28h6M368.26 26.65V39.15M365.26 26.65h6M365.26 39.15h6M372.47 26.54V39.07M369.47 26.54h6M369.47 39.07h6M376.68 27.01V39.56M373.68 27.01h6M373.68 39.56h6M380.89 27.3V39.87M377.89 27.3h6M377.89 39.87h6M385.1 27.81V40.41M382.1 27.81h6M382.1 40.41h6M389.32 27.77V40.39M386.32 27.77h6M386.32 40.39h6M393.53 27.12V39.77M390.53 27.12h6M390.53 39.77h6M397.74 27.66V40.33M394.74 27.66h6M394.74 40.33h6M401.95 26.82V39.52M398.95 26.82h6M398.95 39.52h6M406.16 26.46V39.18M403.16 26.46h6M403.16 39.18h6M410.37 26.05V38.79M407.37 26.05h6M407.37 38.79h6M414.59 25.04V37.81M411.59 25.04h6M411.59 37.81h6M418.8 24.07V36.86M415.8 24.07h6M415.8 36.86h6M423.01 23.55V36.37M420.01 23.55h6M420.01 36.37h6M427.22 22.69V35.53M424.22 22.69h6M424.22 35.53h6M431.43 22.41V35.27M428.43 22.41h6M428.43 35.27h6M435.64 22.31V35.2M432.64 22.31h6M432.64 35.2h6M439.86 22.9V35.82M436.86 22.9h6M436.86 35.82h6M444.07 22.51V35.45M441.07 22.51h6M441.07 35.45h6M448.28 24.29V37.25M445.28 24.29h6M445.28 37.25h6M452.49 25.82V38.81M449.49 25.82h6M449.49 38.81h6M456.7 27.54V40.56M453.7 27.54h6M453.7 40.56h6M460.91 28.22V41.25M457.91 28.22h6M457.91 41.25h6M465.12 28.49V41.55M462.12 28.49h6M462.12 41.55h6M469.34 26.63V39.71M466.34 26.63h6M466.34 39.71h6M473.55 26.28V39.39M470.55 26.28h6M470.55 39.39h6M477.76 25.65V38.79M474.76 25.65h6M474.76 38.79h6M481.97 24.93V38.09M478.97 24.93h6M478.97 38.09h6M486.18 24.63V37.82M483.18 24.63h6M483.18 37.82h6M490.39 23.8V37.01M487.39 23.8h6M487.39 37.01h6M494.61 24.41V37.64M491.61 24.41h6M491.61 37.64h6M498.82 24.63V37.89M495.82 24.63h6M495.82 37.89h6M503.03 24.64V37.92M500.03 24.64h6M500.03 37.92h6M507.24 26.99V40.3M504.24 26.99h6M504.24 40.3h6M511.45 28.4V41.73M508.45 28.4h6M508.45 41.73h6M515.66 29.78V43.13M512.66 29.78h6M512.66 43.13h6M519.88 30.23V43.61M516.88 30.23h6M516.88 43.61h6M524.09 30.25V43.65M521.09 30.25h6M521.09 43.65h6M528.3 30.49V43.92M525.3 30.49h6M525.3 43.92h6M532.51 29.64V43.09M529.51 29.64h6M529.51 43.09h6M536.72 29.62V43.09M533.72 29.62h6M533.72 43.09h6M540.93 29.62V43.12M537.93 29.62h6M537.93 43.12h6M545.15 29.55V43.07M542.15 29.55h6M542.15 43.07h6M549.36 29.42V42.97M546.36 29.42h6M546.36 42.97h6M553.57 30.25V43.83M550.57 30.25h6M550.57 43.83h6M557.78 30.05V43.65M554.78 30.05h6M554.78 43.65h6" stroke="#009e73" stroke-width="0.68" fill="none"/>
<polyline points="351.41,32.59 355.62,32.29 359.83,32.81 364.05,32.05 368.26,32.9 372.47,32.81 376.68,33.29 380.89,33.59 385.1,34.11 389.32,34.08 393.53,33.44 397.74,33.99 401.95,33.17 406.16,32.82 410.37,32.42 414.59,31.43 418.8,30.46 423.01,29.96 427.22,29.11 431.43,28.84 435.64,28.75 439.86,29.36 444.07,28.98 448.28,30.77 452.49,32.31 456.7,34.05 460.91,34.73 465.12,35.02 469.34,33.17 473.55,32.84 477.76,32.22 481.97,31.51 486.18,31.22 490.39,30.41 494.61,31.03 498.82,31.26 503.03,31.28 507.24,33.64 511.45,35.07 515.66,36.45 519.88,36.92 524.09,36.95 528.3,37.2 532.51,36.36 536.72,36.35 540.93,36.37 545.15,36.31 549.36,36.2 553.57,37.04 557.78,36.85" stroke="#009e73" stroke-width="0.68" fill="none"/>
<path d="M350.41 31.59h2.0v2.0h-2.0zM354.62 31.29h2.0v2.0h-2.0zM358.83 31.81h2.0v2.0h-2.0zM363.05 31.05h2.0v2.0h-2.0zM367.26 31.9h2.0v2.0h-2.0zM371.47 31.81h2.0v2.0h-2.0zM375.68 32.29h2.0v2.0h-2.0zM379.89 32.59h2.0v2.0h-2.0zM384.1 33.11h2.0v2.0h-2.0zM388.32 33.08h2.0v2.0h-2.0zM392.53 32.44h2.0v2.0h-2.0zM396.74 32.99h2.0v2.0h-2.0zM400.95 32.17h2.0v2.0h-2.0zM405.16 31.82h2.0v2.0h-2.0zM409.37 31.42h2.0v2.0h-2.0zM413.59 30.43h2.0v2.0h-2.0zM417.8 29.46h2.0v2.0h-2.0zM422.01 28.96h2.0v2.0h-2.0zM426.22 28.11h2.0v2.0h-2.0zM430.43 27.84h2.0v2.0h-2.0zM434.64 27.75h2.0v2.0h-2.0zM438.86 28.36h2.0v2.0h-2.0zM443.07 27.98h2.0v2.0h-2.0zM447.28 29.77h2.0v2.0h-2.0zM451.49 31.31h2.0v2.0h-2.0zM455.7 33.05h2.0v2.0h-2.0zM459.91 33.73h2.0v2.0h-2.0zM464.12 34.02h2.0v2.0h-2.0zM468.34 32.17h2.0v2.0h-2.0zM472.55 31.84h2.0v2.0h-2.0zM476.76 31.22h2.0v2.0h-2.0zM480.97 30.51h2.0v2.0h-2.0zM485.18 30.22h2.0v2.0h-2.0zM489.39 29.41h2.0v2.0h-2.0zM493.61 30.03h2.0v2.0h-2.0zM497.82 30.26h2.0v2.0h-2.0zM502.03 30.28h2.0v2.0h-2.0zM506.24 32.64h2.0v2.0h-2.0zM510.45 34.07h2.0v2.0h-2.0zM514.66 35.45h2.0v2.0h-2.0zM518.88 35.92h2.0v2.0h-2.0zM523.09 35.95h2.0v2.0h-2.0zM527.3 36.2h2.0v2.0h-2.0zM531.51 35.36h2.0v2.0h-2.0zM535.72 35.35h2.0v2.0h-2.0zM539.93 35.37h2.0v2.0h-2.0zM544.15 35.31h2.0v2.0h-2.0zM548.36 35.2h2.0v2.0h-2.0zM552.57 36.04h2.0v2.0h-2.0zM556.78 35.85h2.0v2.0h-2.0z" fill="#009e73"/>
<path d="M351.41 28.19V40.59M348.41 28.19h6M348.41 40.59h6M355.62 28.59V41.01M352.62 28.59h6M352.62 41.01h6M359.83 28.39V40.84M356.83 28.39h6M356.83 40.84h6M364.05 28.38V40.85M361.05 28.38h6M361.05 40.85h6M368.26 28.4V40.9M365.26 28.4h6M365.26 40.9h6M372.47 28.69V41.21M369.47 28.69h6M369.47 41.21h6M376.68 28.64V41.19M373.68 28.64h6M373.68 41.19h6M380.89 28.44V41.01M377.89 28.44h6M377.89 41.01h6M385.1 28.32V40.91M382.1 28.32h6M382.1 40.91h6M389.32 28.52V41.14M386.32 28.52h6M386.32 41.14h6M393.53 28.7V41.35M390.53 28.7h6M390.53 41.35h6M397.74 30.05V42.72M394.74 30.05h6M394.74 42.72h6M401.95 30.87V43.56M398.95 30.87h6M398.95 43.56h6M406.16 30.52V43.24M403.16 30.52h6M403.16 43.24h6M410.37 30.21V42.95M407.37 30.21h6M407.37 42.95h6M414.59 30.29V43.06M411.59 30.29h6M411.59 43.06h6M418.8 29.48V42.27M415.8 29.48h6M415.8 42.27h6M423.01 28.7V41.51M420.01 28.7h6M420.01 41.51h6M427.22 29.44V42.28M424.22 29.44h6M424.22 42.28h6M431.43 29.95V42.81M428.43 29.95h6M428.43 42.81h6M435.64 31.02V43.91M432.64 31.02h6M432.64 43.91h6M439.86 31.6V44.51M436.86 31.6h6M436.86 44.51h6M444.07 32.29V45.23M441.07 32.29h6M441.07 45.23h6M448.28 32.39V45.35M445.28 32.39h6M445.28 45.35h6M452.49 32.5V45.49M449.49 32.5h6M449.49 45.49h6M456.7 32.7V45.71M453.7 32.7h6M453.7 45.71h6M460.91 32.4V45.44M457.91 32.4h6M457.91 45.44h6M465.12 32.98V46.04M462.12 32.98h6M462.12 46.04h6M469.34 34.4V47.49M466.34 34.4h6M466.34 47.49h6M473.55 35.62V48.73M470.55 35.62h6M470.55 48.73h6M477.76 37.08V50.22M474.76 37.08h6M474.76 50.22h6M481.97 38.62V51.77M478.97 38.62h6M478.97 51.77h6M486.18 39.98V53.16M483.18 39.98h6M483.18 53.16h6M490.39 40.32V53.53M487.39 40.32h6M487.39 53.53h6M494.61 40.31V53.54M491.61 40.31h6M491.61 53.54h6M498.82 40.75V54.01M495.82 40.75h6M495.82 54.01h6M503.03 41.01V54.3M500.03 41.01h6M500.03 54.3h6M507.24 41.63V54.93M504.24 41.63h6M504.24 54.93h6M511.45 43.23V56.56M508.45 43.23h6M508.45 56.56h6M515.66 44.11V57.47M512.66 44.11h6M512.66 57.47h6M519.88 44.57V57.95M516.88 44.57h6M516.88 57.95h6M524.09 46.26V59.67M521.09 46.26h6M521.09 59.67h6M528.3 47.33V60.75M525.3 47.33h6M525.3 60.75h6M532.51 49.12V62.57M529.51 49.12h6M529.51 62.57h6M536.72 49.62V63.1M533.72 49.62h6M533.72 63.1h6M540.93 49.84V63.34M537.93 49.84h6M537.93 63.34h6M545.15 49.73V63.26M542.15 49.73h6M542.15 63.26h6M549.36 49.59V63.14M546.36 49.59h6M546.36 63.14h6M553.57 49.65V63.22M550.57 49.65h6M550.57 63.22h6M557.78 49.46V63.06M554.78 49.46h6M554.78 63.06h6" stroke="#56b4e9" stroke-width="0.68" fill="none"/>
<polyline points="351.41,34.39 355.62,34.8 359.83,34.62 364.05,34.61 368.26,34.65 372.47,34.95 376.68,34.91 380.89,34.73 385.1,34.61 389.32,34.83 393.53,35.02 397.74,36.38 401.95,37.22 406.16,36.88 410.37,36.58 414.59,36.68 418.8,35.87 423.01,35.1 427.22,35.86 431.43,36.38 435.64,37.46 439.86,38.06 444.07,38.76 448.28,38.87 452.49,39 456.7,39.2 460.91,38.92 465.12,39.51 469.34,40.95 473.55,42.18 477.76,43.65 481.97,45.2 486.18,46.57 490.39,46.92 494.61,46.93 498.82,47.38 503.03,47.66 507.24,48.28 511.45,49.9 515.66,50.79 519.88,51.26 524.09,52.96 528.3,54.04 532.51,55.85 536.72,56.36 540.93,56.59 545.15,56.49 549.36,56.37 553.57,56.43 557.78,56.26" stroke="#56b4e9" stroke-width="0.68" fill="none"/>
<path d="M350.41 33.39h2.0v2.0h-2.0zM354.62 33.8h2.0v2.0h-2.0zM358.83 33.62h2.0v2.0h-2.0zM363.05 33.61h2.0v2.0h-2.0zM367.26 33.65h2.0v2.0h-2.0zM371.47 33.95h2.0v2.0h-2.0zM375.68 33.91h2.0v2.0h-2.0zM379.89 33.73h2.0v2.0h-2.0zM384.1 33.61h2.0v2.0h-2.0zM388.32 33.83h2.0v2.0h-2.0zM392.53 34.02h2.0v2.0h-2.0zM396.74 35.38h2.0v2.0h-2.0zM400.95 36.22h2.0v2.0h-2.0zM405.16 35.88h2.0v2.0h-2.0zM409.37 35.58h2.0v2.0h-2.0zM413.59 35.68h2.0v2.0h-2.0zM417.8 34.87h2.0v2.0h-2.0zM422.01 34.1h2.0v2.0h-2.0zM426.22 34.86h2.0v2.0h-2.0zM430.43 35.38h2.0v2.0h-2.0zM434.64 36.46h2.0v2.0h-2.0zM438.86 37.06h2.0v2.0h-2.0zM443.07 37.76h2.0v2.0h-2.0zM447.28 37.87h2.0v2.0h-2.0zM451.49 38h2.0v2.0h-2.0zM455.7 38.2h2.0v2.0h-2.0zM459.91 37.92h2.0v2.0h-2.0zM464.12 38.51h2.0v2.0h-2.0zM468.34 39.95h2.0v2.0h-2.0zM472.55 41.18h2.0v2.0h-2.0zM476.76 42.65h2.0v2.0h-2.0zM480.97 44.2h2.0v2.0h-2.0zM485.18 45.57h2.0v2.0h-2.0zM489.39 45.92h2.0v2.0h-2.0zM493.61 45.93h2.0v2.0h-2.0zM497.82 46.38h2.0v2.0h-2.0zM502.03 46.66h2.0v2.0h-2.0zM506.24 47.28h2.0v2.0h-2.0zM510.45 48.9h2.0v2.0h-2.0zM514.66 49.79h2.0v2.0h-2.0zM518.88 50.26h2.0v2.0h-2.0zM523.09 51.96h2.0v2.0h-2.0zM527.3 53.04h2.0v2.0h-2.0zM531.51 54.85h2.0v2.0h-2.0zM535.72 55.36h2.0v2.0h-2.0zM539.93 55.59h2.0v2.0h-2.0zM544.15 55.49h2.0v2.0h-2.0zM548.36 55.37h2.0v2.0h-2.0zM552.57 55.43h2.0v2.0h-2.0zM556.78 55.26h2.0v2.0h-2.0z" fill="#56b4e9"/>
<path d="M351.41 25.6V38.4M348.41 25.6h6M348.41 38.4h6M355.62 32.56V45.44M352.62 32.56h6M352.62 45.44h6M359.83 45.02V57.98M356.83 45.02h6M356.83 57.98h6M364.05 64.98V78.02M361.05 64.98h6M361.05 78.02h6M368.26 81.44V94.56M365.26 81.44h6M365.26 94.56h6M372.47 97.91V111.09M369.47 97.91h6M369.47 111.09h6M376.68 110.37V123.63M373.68 110.37h6M373.68 123.63h6M380.89 121.33V134.67M377.89 121.33h6M377.89 134.67h6M385.1 135.29V148.71M382.1 135.29h6M382.1 148.71h6M389.32 145.75V159.25M386.32 145.75h6M386.32 159.25h6M393.53 155.21V168.79M390.53 155.21h6M390.53 168.79h6M397.74 165.17V178.83M394.74 165.17h6M394.74 178.83h6M401.95 174.13V187.87M398.95 174.13h6M398.95 187.87h6M406.16 180.1V193.9M403.16 180.1h6M403.16 193.9h6M410.37 186.06V199.94M407.37 186.06h6M407.37 199.94h6M414.59 192.02V205.98M411.59 192.02h6M411.59 205.98h6M418.8 195.98V210.02M415.8 195.98h6M415.8 210.02h6M423.01 200.94V215.06M420.01 200.94h6M420.01 215.06h6M427.22 205.9V220.1M424.22 205.9h6M424.22 220.1h6M431.43 208.86V223.14M428.43 208.86h6M428.43 223.14h6M435.64 213.82V228.18M432.64 213.82h6M432.64 228.18h6M439.86 219.79V234.21M436.86 219.79h6M436.86 234.21h6M444.07 223.75V238.25M441.07 223.75h6M441.07 238.25h6M448.28 227.71V242.29M445.28 227.71h6M445.28 242.29h6M452.49 230.67V245.33M449.49 230.67h6M449.49 245.33h6M456.7 233.33V248.07M453.7 233.33h6M453.7 248.07h6M460.91 235.29V250.11M457.91 235.29h6M457.91 250.11h6M465.12 237.25V252.15M462.12 237.25h6M462.12 252.15h6M469.34 238.51V253.49M466.34 238.51h6M466.34 253.49h6M473.55 241.18V256.22M470.55 241.18h6M470.55 256.22h6M477.76 242.44V257.56M474.76 242.44h6M474.76 257.56h6M481.97 246.4V261.6M478.97 246.4h6M478.97 261.6h6M486.18 248.36V263.64M483.18 248.36h6M483.18 263.64h6M490.39 250.32V265.68M487.39 250.32h6M487.39 265.68h6M494.61 252.78V268.22M491.61 252.78h6M491.61 268.22h6M498.82 254.74V270.26M495.82 254.74h6M495.82 270.26h6M503.03 256.9V272.5M500.03 256.9h6M500.03 272.5h6M507.24 258.87V274.53M504.24 258.87h6M504.24 274.53h6M511.45 260.83V276.57M508.45 260.83h6M508.45 276.57h6M515.66 263.09V278.91M512.66 263.09h6M512.66 278.91h6M519.88 266.05V281.95M516.88 266.05h6M516.88 281.95h6M524.09 269.51V285.49M521.09 269.51h6M521.09 285.49h6M528.3 272.67V288.73M525.3 272.67h6M525.3 288.73h6M532.51 274.63V290.77M529.51 274.63h6M529.51 290.77h6M536.72 274.89V291.11M533.72 274.89h6M533.72 291.11h6M540.93 274.56V290.84M537.93 274.56h6M537.93 290.84h6M545.15 274.32V290.68M542.15 274.32h6M542.15 290.68h6M549.36 273.78V290.22M546.36 273.78h6M546.36 290.22h6M553.57 275.24V291.76M550.57 275.24h6M550.57 291.76h6M557.78 275.2V291.8M554.78 275.2h6M554.78 291.8h6" stroke="#e69f00" stroke-width="0.68" fill="none"/>
<polyline points="351.41,32 355.62,39 359.83,51.5 364.05,71.5 368.26,88 372.47,104.5 376.68,117 380.89,128 385.1,142 389.32,152.5 393.53,162 397.74,172 401.95,181 406.16,187 410.37,193 414.59,199 418.8,203 423.01,208 427.22,213 431.43,216 435.64,221 439.86,227 444.07,231 448.28,235 452.49,238 456.7,240.7 460.91,242.7 465.12,244.7 469.34,246 473.55,248.7 477.76,250 481.97,254 486.18,256 490.39,258 494.61,260.5 498.82,262.5 503.03,264.7 507.24,266.7 511.45,268.7 515.66,271 519.88,274 524.09,277.5 528.3,280.7 532.51,282.7 536.72,283 540.93,282.7 545.15,282.5 549.36,282 553.57,283.5 557.78,283.5" stroke="#e69f00" stroke-width="0.68" fill="none"/>
<path d="M350.31 30.9h2.2v2.2h-2.2zM354.52 37.9h2.2v2.2h-2.2zM358.73 50.4h2.2v2.2h-2.2zM362.95 70.4h2.2v2.2h-2.2zM367.16 86.9h2.2v2.2h-2.2zM371.37 103.4h2.2v2.2h-2.2zM375.58 115.9h2.2v2.2h-2.2zM379.79 126.9h2.2v2.2h-2.2zM384 140.9h2.2v2.2h-2.2zM388.22 151.4h2.2v2.2h-2.2zM392.43 160.9h2.2v2.2h-2.2zM396.64 170.9h2.2v2.2h-2.2zM400.85 179.9h2.2v2.2h-2.2zM405.06 185.9h2.2v2.2h-2.2zM409.27 191.9h2.2v2.2h-2.2zM413.49 197.9h2.2v2.2h-2.2zM417.7 201.9h2.2v2.2h-2.2zM421.91 206.9h2.2v2.2h-2.2zM426.12 211.9h2.2v2.2h-2.2zM430.33 214.9h2.2v2.2h-2.2zM434.54 219.9h2.2v2.2h-2.2zM438.76 225.9h2.2v2.2h-2.2zM442.97 229.9h2.2v2.2h-2.2zM447.18 233.9h2.2v2.2h-2.2zM451.39 236.9h2.2v2.2h-2.2zM455.6 239.6h2.2v2.2h-2.2zM459.81 241.6h2.2v2.2h-2.2zM464.02 243.6h2.2v2.2h-2.2zM468.24 244.9h2.2v2.2h-2.2zM472.45 247.6h2.2v2.2h-2.2zM476.66 248.9h2.2v2.2h-2.2zM480.87 252.9h2.2v2.2h-2.2zM485.08 254.9h2.2v2.2h-2.2zM489.29 256.9h2.2v2.2h-2.2zM493.51 259.4h2.2v2.2h-2.2zM497.72 261.4h2.2v2.2h-2.2zM501.93 263.6h2.2v2.2h-2.2zM506.14 265.6h2.2v2.2h-2.2zM510.35 267.6h2.2v2.2h-2.2zM514.56 269.9h2.2v2.2h-2.2zM518.78 272.9h2.2v2.2h-2.2zM522.99 276.4h2.2v2.2h-2.2zM527.2 279.6h2.2v2.2h-2.2zM531.41 281.6h2.2v2.2h-2.2zM535.62 281.9h2.2v2.2h-2.2zM539.83 281.6h2.2v2.2h-2.2zM544.05 281.4h2.2v2.2h-2.2zM548.26 280.9h2.2v2.2h-2.2zM552.47 282.4h2.2v2.2h-2.2zM556.68 282.4h2.2v2.2h-2.2z" fill="#e69f00"/>
</g>
<line x1="347.2" y1="311.9" x2="557.78" y2="311.9" stroke="#a0a0a0" stroke-width="1.1" stroke-dasharray="8.6 3.2 1.7 3.4" stroke-dashoffset="-0.5"/>
<rect x="347.2" y="10.25" width="210.58" height="305.95" fill="none" stroke="#000" stroke-width="1.4"/>
<text x="348.8" y="330.3" text-anchor="middle">0</text>
<text x="390.92" y="330.3" text-anchor="middle">2</text>
<text x="433.03" y="330.3" text-anchor="middle">4</text>
<text x="475.15" y="330.3" text-anchor="middle">6</text>
<text x="517.26" y="330.3" text-anchor="middle">8</text>
<text x="559.38" y="330.3" text-anchor="middle">10</text>
<text x="340.9" y="297.9" text-anchor="end">0.4</text>
<text x="340.9" y="232.4" text-anchor="end">0.45</text>
<text x="340.9" y="166.9" text-anchor="end">0.5</text>
<text x="340.9" y="101.4" text-anchor="end">0.55</text>
<text x="340.9" y="35.9" text-anchor="end">0.6</text>
<text x="452.6" y="345.1" text-anchor="middle" font-style="italic">t</text>
<g transform="translate(302.9,190.68) rotate(-90)">
<text transform="translate(-1.6,0) scale(1.3,1)">⟨</text>
<text x="6.3" y="0" font-style="italic">r</text>
<text x="5.6" y="-3.2" style="font-size:7px">~</text>
<text transform="translate(8.3,0) scale(1.3,1)">⟩</text>
<text transform="translate(14.7,4.3) scale(1,1.15)" style="font-size:8.2px">mid energy</text>
</g>
<text x="399.8" y="246.4" text-anchor="middle"><tspan font-style="italic">N</tspan><tspan style="font-size:8px;font-weight:bold" dx="3.4" dy="0.3">=</tspan><tspan dx="3.4" dy="-0.3">14</tspan></text>
<text x="402.5" y="256.7" text-anchor="end">GUE</text>
<line x1="408.9" y1="253.1" x2="440.1" y2="253.1" stroke="#0000ff" stroke-width="1.5" stroke-dasharray="2.2 2.89"/>
<text x="402.5" y="267" text-anchor="end"><tspan font-style="italic">K</tspan><tspan style="font-size:8px;font-weight:bold" dx="3.4" dy="0.3">=</tspan><tspan dx="3.4" dy="-0.3">0.01</tspan></text>
<path d="M408.6 263.4H440.1M408.6 260.4v6M440.1 260.4v6" stroke="#9400d3" stroke-width="0.68" fill="none"/>
<rect x="423.6" y="262.65" width="1.5" height="1.5" fill="#9400d3"/>
<text x="402.5" y="277.2" text-anchor="end"><tspan font-style="italic">K</tspan><tspan style="font-size:8px;font-weight:bold" dx="3.4" dy="0.3">=</tspan><tspan dx="3.4" dy="-0.3">0.1</tspan></text>
<path d="M408.6 273.6H440.1M408.6 270.6v6M440.1 270.6v6" stroke="#009e73" stroke-width="0.68" fill="none"/>
<rect x="423.35" y="272.6" width="2.0" height="2.0" fill="#009e73"/>
<text x="402.5" y="287.5" text-anchor="end"><tspan font-style="italic">K</tspan><tspan style="font-size:8px;font-weight:bold" dx="3.4" dy="0.3">=</tspan><tspan dx="3.4" dy="-0.3">1</tspan></text>
<path d="M408.6 283.9H440.1M408.6 280.9v6M440.1 280.9v6" stroke="#56b4e9" stroke-width="0.68" fill="none"/>
<rect x="423.35" y="282.9" width="2.0" height="2.0" fill="#56b4e9"/>
<text x="402.5" y="297.5" text-anchor="end"><tspan font-style="italic">K</tspan><tspan style="font-size:8px;font-weight:bold" dx="3.4" dy="0.3">=</tspan><tspan dx="3.4" dy="-0.3">10</tspan></text>
<path d="M408.6 293.9H440.1M408.6 290.9v6M440.1 290.9v6" stroke="#e69f00" stroke-width="0.68" fill="none"/>
<rect x="423.25" y="292.8" width="2.2" height="2.2" fill="#e69f00"/>
<text x="402.5" y="307.8" text-anchor="end">Poisson</text>
<line x1="408.6" y1="304.2" x2="440.1" y2="304.2" stroke="#707070" stroke-width="0.7" stroke-dasharray="8.6 3.2 1.7 3.4"/>
</g>
<g>
<path d="M638.1 316.2v-6.6M638.1 10.25v6.6M680.22 316.2v-6.6M680.22 10.25v6.6M722.33 316.2v-6.6M722.33 10.25v6.6M764.45 316.2v-6.6M764.45 10.25v6.6M806.56 316.2v-6.6M806.56 10.25v6.6M848.68 316.2v-6.6M848.68 10.25v6.6M638.1 294h6.6M848.68 294h-6.6M638.1 228.5h6.6M848.68 228.5h-6.6M638.1 163h6.6M848.68 163h-6.6M638.1 97.5h6.6M848.68 97.5h-6.6M638.1 32h6.6M848.68 32h-6.6" stroke="#000" stroke-width="0.7" fill="none"/>
<clipPath id="c2"><rect x="638.1" y="10.25" width="210.58" height="305.95"/></clipPath><g clip-path="url(#c2)">
<line x1="639.1" y1="32.5" x2="848.68" y2="32.5" stroke="#0000ff" stroke-width="1.5" stroke-dasharray="2.2 2.89"/>
<path d="M642.31 26.3V40.3M639.31 26.3h6M639.31 40.3h6M646.52 26.79V40.79M643.52 26.79h6M643.52 40.79h6M650.73 26.2V40.2M647.73 26.2h6M647.73 40.2h6M654.95 26.34V40.34M651.95 26.34h6M651.95 40.34h6M659.16 26.97V40.97M656.16 26.97h6M656.16 40.97h6M663.37 26.21V40.21M660.37 26.21h6M660.37 40.21h6M667.58 26.17V40.17M664.58 26.17h6M664.58 40.17h6M671.79 26.06V40.06M668.79 26.06h6M668.79 40.06h6M676 26.74V40.74M673 26.74h6M673 40.74h6M680.22 25.98V39.98M677.22 25.98h6M677.22 39.98h6M684.43 25.8V39.8M681.43 25.8h6M681.43 39.8h6M688.64 26.6V40.6M685.64 26.6h6M685.64 40.6h6M692.85 25.87V39.87M689.85 25.87h6M689.85 39.87h6M697.06 26.57V40.57M694.06 26.57h6M694.06 40.57h6M701.27 26.37V40.37M698.27 26.37h6M698.27 40.37h6M705.49 26.5V40.5M702.49 26.5h6M702.49 40.5h6M709.7 26.55V40.55M706.7 26.55h6M706.7 40.55h6M713.91 26.09V40.09M710.91 26.09h6M710.91 40.09h6M718.12 26.18V40.18M715.12 26.18h6M715.12 40.18h6M722.33 25.24V39.24M719.33 25.24h6M719.33 39.24h6M726.54 25.27V39.27M723.54 25.27h6M723.54 39.27h6M730.76 25.41V39.41M727.76 25.41h6M727.76 39.41h6M734.97 26.02V40.02M731.97 26.02h6M731.97 40.02h6M739.18 25.33V39.33M736.18 25.33h6M736.18 39.33h6M743.39 25.75V39.75M740.39 25.75h6M740.39 39.75h6M747.6 23.78V37.78M744.6 23.78h6M744.6 37.78h6M751.81 21.86V35.86M748.81 21.86h6M748.81 35.86h6M756.02 21.88V35.88M753.02 21.88h6M753.02 35.88h6M760.24 22.03V36.03M757.24 22.03h6M757.24 36.03h6M764.45 22.24V36.24M761.45 22.24h6M761.45 36.24h6M768.66 21.63V35.63M765.66 21.63h6M765.66 35.63h6M772.87 21.52V35.52M769.87 21.52h6M769.87 35.52h6M777.08 21.48V35.48M774.08 21.48h6M774.08 35.48h6M781.29 21.55V35.55M778.29 21.55h6M778.29 35.55h6M785.51 21.25V35.25M782.51 21.25h6M782.51 35.25h6M789.72 19.88V33.88M786.72 19.88h6M786.72 33.88h6M793.93 19.57V33.57M790.93 19.57h6M790.93 33.57h6M798.14 19.6V33.6M795.14 19.6h6M795.14 33.6h6M802.35 19.55V33.55M799.35 19.55h6M799.35 33.55h6M806.56 20V34M803.56 20h6M803.56 34h6M810.78 21.08V35.08M807.78 21.08h6M807.78 35.08h6M814.99 22.18V36.18M811.99 22.18h6M811.99 36.18h6M819.2 22.97V36.97M816.2 22.97h6M816.2 36.97h6M823.41 22.24V36.24M820.41 22.24h6M820.41 36.24h6M827.62 22.25V36.25M824.62 22.25h6M824.62 36.25h6M831.83 21.33V35.33M828.83 21.33h6M828.83 35.33h6M836.05 21.44V35.44M833.05 21.44h6M833.05 35.44h6M840.26 20.96V34.96M837.26 20.96h6M837.26 34.96h6M844.47 20.11V34.11M841.47 20.11h6M841.47 34.11h6M848.68 19.02V33.02M845.68 19.02h6M845.68 33.02h6" stroke="#9400d3" stroke-width="0.68" fill="none"/>
<polyline points="642.31,33.3 646.52,33.79 650.73,33.2 654.95,33.34 659.16,33.97 663.37,33.21 667.58,33.17 671.79,33.06 676,33.74 680.22,32.98 684.43,32.8 688.64,33.6 692.85,32.87 697.06,33.57 701.27,33.37 705.49,33.5 709.7,33.55 713.91,33.09 718.12,33.18 722.33,32.24 726.54,32.27 730.76,32.41 734.97,33.02 739.18,32.33 743.39,32.75 747.6,30.78 751.81,28.86 756.02,28.88 760.24,29.03 764.45,29.24 768.66,28.63 772.87,28.52 777.08,28.48 781.29,28.55 785.51,28.25 789.72,26.88 793.93,26.57 798.14,26.6 802.35,26.55 806.56,27 810.78,28.08 814.99,29.18 819.2,29.97 823.41,29.24 827.62,29.25 831.83,28.33 836.05,28.44 840.26,27.96 844.47,27.11 848.68,26.02" stroke="#9400d3" stroke-width="0.68" fill="none"/>
<path d="M641.56 32.55h1.5v1.5h-1.5zM645.77 33.04h1.5v1.5h-1.5zM649.98 32.45h1.5v1.5h-1.5zM654.2 32.59h1.5v1.5h-1.5zM658.41 33.22h1.5v1.5h-1.5zM662.62 32.46h1.5v1.5h-1.5zM666.83 32.42h1.5v1.5h-1.5zM671.04 32.31h1.5v1.5h-1.5zM675.25 32.99h1.5v1.5h-1.5zM679.47 32.23h1.5v1.5h-1.5zM683.68 32.05h1.5v1.5h-1.5zM687.89 32.85h1.5v1.5h-1.5zM692.1 32.12h1.5v1.5h-1.5zM696.31 32.82h1.5v1.5h-1.5zM700.52 32.62h1.5v1.5h-1.5zM704.74 32.75h1.5v1.5h-1.5zM708.95 32.8h1.5v1.5h-1.5zM713.16 32.34h1.5v1.5h-1.5zM717.37 32.43h1.5v1.5h-1.5zM721.58 31.49h1.5v1.5h-1.5zM725.79 31.52h1.5v1.5h-1.5zM730.01 31.66h1.5v1.5h-1.5zM734.22 32.27h1.5v1.5h-1.5zM738.43 31.58h1.5v1.5h-1.5zM742.64 32h1.5v1.5h-1.5zM746.85 30.03h1.5v1.5h-1.5zM751.06 28.11h1.5v1.5h-1.5zM755.27 28.13h1.5v1.5h-1.5zM759.49 28.28h1.5v1.5h-1.5zM763.7 28.49h1.5v1.5h-1.5zM767.91 27.88h1.5v1.5h-1.5zM772.12 27.77h1.5v1.5h-1.5zM776.33 27.73h1.5v1.5h-1.5zM780.54 27.8h1.5v1.5h-1.5zM784.76 27.5h1.5v1.5h-1.5zM788.97 26.13h1.5v1.5h-1.5zM793.18 25.82h1.5v1.5h-1.5zM797.39 25.85h1.5v1.5h-1.5zM801.6 25.8h1.5v1.5h-1.5zM805.81 26.25h1.5v1.5h-1.5zM810.03 27.33h1.5v1.5h-1.5zM814.24 28.43h1.5v1.5h-1.5zM818.45 29.22h1.5v1.5h-1.5zM822.66 28.49h1.5v1.5h-1.5zM826.87 28.5h1.5v1.5h-1.5zM831.08 27.58h1.5v1.5h-1.5zM835.3 27.69h1.5v1.5h-1.5zM839.51 27.21h1.5v1.5h-1.5zM843.72 26.36h1.5v1.5h-1.5zM847.93 25.27h1.5v1.5h-1.5z" fill="#9400d3"/>
<path d="M642.31 24.48V37.88M639.31 24.48h6M639.31 37.88h6M646.52 24.81V38.21M643.52 24.81h6M643.52 38.21h6M650.73 25.25V38.65M647.73 25.25h6M647.73 38.65h6M654.95 24.72V38.12M651.95 24.72h6M651.95 38.12h6M659.16 24.9V38.3M656.16 24.9h6M656.16 38.3h6M663.37 25.78V39.18M660.37 25.78h6M660.37 39.18h6M667.58 26.23V39.63M664.58 26.23h6M664.58 39.63h6M671.79 26.28V39.68M668.79 26.28h6M668.79 39.68h6M676 27.04V40.44M673 27.04h6M673 40.44h6M680.22 29.22V42.62M677.22 29.22h6M677.22 42.62h6M684.43 29.96V43.36M681.43 29.96h6M681.43 43.36h6M688.64 30.27V43.67M685.64 30.27h6M685.64 43.67h6M692.85 30.2V43.6M689.85 30.2h6M689.85 43.6h6M697.06 30.59V43.99M694.06 30.59h6M694.06 43.99h6M701.27 30.31V43.71M698.27 30.31h6M698.27 43.71h6M705.49 29.99V43.39M702.49 29.99h6M702.49 43.39h6M709.7 29.47V42.87M706.7 29.47h6M706.7 42.87h6M713.91 28.33V41.73M710.91 28.33h6M710.91 41.73h6M718.12 26.01V39.41M715.12 26.01h6M715.12 39.41h6M722.33 24.73V38.13M719.33 24.73h6M719.33 38.13h6M726.54 22.42V35.82M723.54 22.42h6M723.54 35.82h6M730.76 20.73V34.13M727.76 20.73h6M727.76 34.13h6M734.97 18.88V32.28M731.97 18.88h6M731.97 32.28h6M739.18 17.2V30.6M736.18 17.2h6M736.18 30.6h6M743.39 15.78V29.18M740.39 15.78h6M740.39 29.18h6M747.6 14.52V27.92M744.6 14.52h6M744.6 27.92h6M751.81 14.89V28.29M748.81 14.89h6M748.81 28.29h6M756.02 14.73V28.13M753.02 14.73h6M753.02 28.13h6M760.24 14.48V27.88M757.24 14.48h6M757.24 27.88h6M764.45 14.66V28.06M761.45 14.66h6M761.45 28.06h6M768.66 15.22V28.62M765.66 15.22h6M765.66 28.62h6M772.87 16.27V29.67M769.87 16.27h6M769.87 29.67h6M777.08 15.47V28.87M774.08 15.47h6M774.08 28.87h6M781.29 15.9V29.3M778.29 15.9h6M778.29 29.3h6M785.51 14.88V28.28M782.51 14.88h6M782.51 28.28h6M789.72 14.12V27.52M786.72 14.12h6M786.72 27.52h6M793.93 12.9V26.3M790.93 12.9h6M790.93 26.3h6M798.14 12.73V26.13M795.14 12.73h6M795.14 26.13h6M802.35 12.72V26.12M799.35 12.72h6M799.35 26.12h6M806.56 12.46V25.86M803.56 12.46h6M803.56 25.86h6M810.78 12.58V25.98M807.78 12.58h6M807.78 25.98h6M814.99 14.28V27.68M811.99 14.28h6M811.99 27.68h6M819.2 16.22V29.62M816.2 16.22h6M816.2 29.62h6M823.41 17.52V30.92M820.41 17.52h6M820.41 30.92h6M827.62 19.11V32.51M824.62 19.11h6M824.62 32.51h6M831.83 20.3V33.7M828.83 20.3h6M828.83 33.7h6M836.05 19.63V33.03M833.05 19.63h6M833.05 33.03h6M840.26 18.03V31.43M837.26 18.03h6M837.26 31.43h6M844.47 17.19V30.59M841.47 17.19h6M841.47 30.59h6M848.68 17.02V30.42M845.68 17.02h6M845.68 30.42h6" stroke="#009e73" stroke-width="0.68" fill="none"/>
<polyline points="642.31,31.18 646.52,31.51 650.73,31.95 654.95,31.42 659.16,31.6 663.37,32.48 667.58,32.93 671.79,32.98 676,33.74 680.22,35.92 684.43,36.66 688.64,36.97 692.85,36.9 697.06,37.29 701.27,37.01 705.49,36.69 709.7,36.17 713.91,35.03 718.12,32.71 722.33,31.43 726.54,29.12 730.76,27.43 734.97,25.58 739.18,23.9 743.39,22.48 747.6,21.22 751.81,21.59 756.02,21.43 760.24,21.18 764.45,21.36 768.66,21.92 772.87,22.97 777.08,22.17 781.29,22.6 785.51,21.58 789.72,20.82 793.93,19.6 798.14,19.43 802.35,19.42 806.56,19.16 810.78,19.28 814.99,20.98 819.2,22.92 823.41,24.22 827.62,25.81 831.83,27 836.05,26.33 840.26,24.73 844.47,23.89 848.68,23.72" stroke="#009e73" stroke-width="0.68" fill="none"/>
<path d="M641.31 30.18h2.0v2.0h-2.0zM645.52 30.51h2.0v2.0h-2.0zM649.73 30.95h2.0v2.0h-2.0zM653.95 30.42h2.0v2.0h-2.0zM658.16 30.6h2.0v2.0h-2.0zM662.37 31.48h2.0v2.0h-2.0zM666.58 31.93h2.0v2.0h-2.0zM670.79 31.98h2.0v2.0h-2.0zM675 32.74h2.0v2.0h-2.0zM679.22 34.92h2.0v2.0h-2.0zM683.43 35.66h2.0v2.0h-2.0zM687.64 35.97h2.0v2.0h-2.0zM691.85 35.9h2.0v2.0h-2.0zM696.06 36.29h2.0v2.0h-2.0zM700.27 36.01h2.0v2.0h-2.0zM704.49 35.69h2.0v2.0h-2.0zM708.7 35.17h2.0v2.0h-2.0zM712.91 34.03h2.0v2.0h-2.0zM717.12 31.71h2.0v2.0h-2.0zM721.33 30.43h2.0v2.0h-2.0zM725.54 28.12h2.0v2.0h-2.0zM729.76 26.43h2.0v2.0h-2.0zM733.97 24.58h2.0v2.0h-2.0zM738.18 22.9h2.0v2.0h-2.0zM742.39 21.48h2.0v2.0h-2.0zM746.6 20.22h2.0v2.0h-2.0zM750.81 20.59h2.0v2.0h-2.0zM755.02 20.43h2.0v2.0h-2.0zM759.24 20.18h2.0v2.0h-2.0zM763.45 20.36h2.0v2.0h-2.0zM767.66 20.92h2.0v2.0h-2.0zM771.87 21.97h2.0v2.0h-2.0zM776.08 21.17h2.0v2.0h-2.0zM780.29 21.6h2.0v2.0h-2.0zM784.51 20.58h2.0v2.0h-2.0zM788.72 19.82h2.0v2.0h-2.0zM792.93 18.6h2.0v2.0h-2.0zM797.14 18.43h2.0v2.0h-2.0zM801.35 18.42h2.0v2.0h-2.0zM805.56 18.16h2.0v2.0h-2.0zM809.78 18.28h2.0v2.0h-2.0zM813.99 19.98h2.0v2.0h-2.0zM818.2 21.92h2.0v2.0h-2.0zM822.41 23.22h2.0v2.0h-2.0zM826.62 24.81h2.0v2.0h-2.0zM830.83 26h2.0v2.0h-2.0zM835.05 25.33h2.0v2.0h-2.0zM839.26 23.73h2.0v2.0h-2.0zM843.47 22.89h2.0v2.0h-2.0zM847.68 22.72h2.0v2.0h-2.0z" fill="#009e73"/>
<path d="M642.31 24.48V37.88M639.31 24.48h6M639.31 37.88h6M646.52 24.76V38.16M643.52 24.76h6M643.52 38.16h6M650.73 24.65V38.05M647.73 24.65h6M647.73 38.05h6M654.95 23.29V36.69M651.95 23.29h6M651.95 36.69h6M659.16 21.99V35.39M656.16 21.99h6M656.16 35.39h6M663.37 21.06V34.46M660.37 21.06h6M660.37 34.46h6M667.58 19.29V32.69M664.58 19.29h6M664.58 32.69h6M671.79 18.08V31.48M668.79 18.08h6M668.79 31.48h6M676 16.66V30.06M673 16.66h6M673 30.06h6M680.22 15.21V28.61M677.22 15.21h6M677.22 28.61h6M684.43 13.03V26.43M681.43 13.03h6M681.43 26.43h6M688.64 13.17V26.57M685.64 13.17h6M685.64 26.57h6M692.85 12.61V26.01M689.85 12.61h6M689.85 26.01h6M697.06 12.72V26.12M694.06 12.72h6M694.06 26.12h6M701.27 13.63V27.03M698.27 13.63h6M698.27 27.03h6M705.49 13.89V27.29M702.49 13.89h6M702.49 27.29h6M709.7 14.51V27.91M706.7 14.51h6M706.7 27.91h6M713.91 15.63V29.03M710.91 15.63h6M710.91 29.03h6M718.12 15.22V28.62M715.12 15.22h6M715.12 28.62h6M722.33 15.38V28.78M719.33 15.38h6M719.33 28.78h6M726.54 15.66V29.06M723.54 15.66h6M723.54 29.06h6M730.76 15.78V29.18M727.76 15.78h6M727.76 29.18h6M734.97 15.07V28.47M731.97 15.07h6M731.97 28.47h6M739.18 15.3V28.7M736.18 15.3h6M736.18 28.7h6M743.39 15.24V28.64M740.39 15.24h6M740.39 28.64h6M747.6 14.52V27.92M744.6 14.52h6M744.6 27.92h6M751.81 14.01V27.41M748.81 14.01h6M748.81 27.41h6M756.02 14.39V27.79M753.02 14.39h6M753.02 27.79h6M760.24 14.76V28.16M757.24 14.76h6M757.24 28.16h6M764.45 14.19V27.59M761.45 14.19h6M761.45 27.59h6M768.66 14.74V28.14M765.66 14.74h6M765.66 28.14h6M772.87 14.92V28.32M769.87 14.92h6M769.87 28.32h6M777.08 15.42V28.82M774.08 15.42h6M774.08 28.82h6M781.29 16.1V29.5M778.29 16.1h6M778.29 29.5h6M785.51 15.91V29.31M782.51 15.91h6M782.51 29.31h6M789.72 17.21V30.61M786.72 17.21h6M786.72 30.61h6M793.93 17.87V31.27M790.93 17.87h6M790.93 31.27h6M798.14 17.77V31.17M795.14 17.77h6M795.14 31.17h6M802.35 19.46V32.86M799.35 19.46h6M799.35 32.86h6M806.56 19.67V33.07M803.56 19.67h6M803.56 33.07h6M810.78 20.7V34.1M807.78 20.7h6M807.78 34.1h6M814.99 21.26V34.66M811.99 21.26h6M811.99 34.66h6M819.2 21.44V34.84M816.2 21.44h6M816.2 34.84h6M823.41 22.59V35.99M820.41 22.59h6M820.41 35.99h6M827.62 22.95V36.35M824.62 22.95h6M824.62 36.35h6M831.83 23.11V36.51M828.83 23.11h6M828.83 36.51h6M836.05 22.57V35.97M833.05 22.57h6M833.05 35.97h6M840.26 23V36.4M837.26 23h6M837.26 36.4h6M844.47 22.83V36.23M841.47 22.83h6M841.47 36.23h6M848.68 21.97V35.37M845.68 21.97h6M845.68 35.37h6" stroke="#56b4e9" stroke-width="0.68" fill="none"/>
<polyline points="642.31,31.18 646.52,31.46 650.73,31.35 654.95,29.99 659.16,28.69 663.37,27.76 667.58,25.99 671.79,24.78 676,23.36 680.22,21.91 684.43,19.73 688.64,19.87 692.85,19.31 697.06,19.42 701.27,20.33 705.49,20.59 709.7,21.21 713.91,22.33 718.12,21.92 722.33,22.08 726.54,22.36 730.76,22.48 734.97,21.77 739.18,22 743.39,21.94 747.6,21.22 751.81,20.71 756.02,21.09 760.24,21.46 764.45,20.89 768.66,21.44 772.87,21.62 777.08,22.12 781.29,22.8 785.51,22.61 789.72,23.91 793.93,24.57 798.14,24.47 802.35,26.16 806.56,26.37 810.78,27.4 814.99,27.96 819.2,28.14 823.41,29.29 827.62,29.65 831.83,29.81 836.05,29.27 840.26,29.7 844.47,29.53 848.68,28.67" stroke="#56b4e9" stroke-width="0.68" fill="none"/>
<path d="M641.31 30.18h2.0v2.0h-2.0zM645.52 30.46h2.0v2.0h-2.0zM649.73 30.35h2.0v2.0h-2.0zM653.95 28.99h2.0v2.0h-2.0zM658.16 27.69h2.0v2.0h-2.0zM662.37 26.76h2.0v2.0h-2.0zM666.58 24.99h2.0v2.0h-2.0zM670.79 23.78h2.0v2.0h-2.0zM675 22.36h2.0v2.0h-2.0zM679.22 20.91h2.0v2.0h-2.0zM683.43 18.73h2.0v2.0h-2.0zM687.64 18.87h2.0v2.0h-2.0zM691.85 18.31h2.0v2.0h-2.0zM696.06 18.42h2.0v2.0h-2.0zM700.27 19.33h2.0v2.0h-2.0zM704.49 19.59h2.0v2.0h-2.0zM708.7 20.21h2.0v2.0h-2.0zM712.91 21.33h2.0v2.0h-2.0zM717.12 20.92h2.0v2.0h-2.0zM721.33 21.08h2.0v2.0h-2.0zM725.54 21.36h2.0v2.0h-2.0zM729.76 21.48h2.0v2.0h-2.0zM733.97 20.77h2.0v2.0h-2.0zM738.18 21h2.0v2.0h-2.0zM742.39 20.94h2.0v2.0h-2.0zM746.6 20.22h2.0v2.0h-2.0zM750.81 19.71h2.0v2.0h-2.0zM755.02 20.09h2.0v2.0h-2.0zM759.24 20.46h2.0v2.0h-2.0zM763.45 19.89h2.0v2.0h-2.0zM767.66 20.44h2.0v2.0h-2.0zM771.87 20.62h2.0v2.0h-2.0zM776.08 21.12h2.0v2.0h-2.0zM780.29 21.8h2.0v2.0h-2.0zM784.51 21.61h2.0v2.0h-2.0zM788.72 22.91h2.0v2.0h-2.0zM792.93 23.57h2.0v2.0h-2.0zM797.14 23.47h2.0v2.0h-2.0zM801.35 25.16h2.0v2.0h-2.0zM805.56 25.37h2.0v2.0h-2.0zM809.78 26.4h2.0v2.0h-2.0zM813.99 26.96h2.0v2.0h-2.0zM818.2 27.14h2.0v2.0h-2.0zM822.41 28.29h2.0v2.0h-2.0zM826.62 28.65h2.0v2.0h-2.0zM830.83 28.81h2.0v2.0h-2.0zM835.05 28.27h2.0v2.0h-2.0zM839.26 28.7h2.0v2.0h-2.0zM843.47 28.53h2.0v2.0h-2.0zM847.68 27.67h2.0v2.0h-2.0z" fill="#56b4e9"/>
<path d="M642.31 14.7V27.7M639.31 14.7h6M639.31 27.7h6M646.52 18.96V32.04M643.52 18.96h6M643.52 32.04h6M650.73 28.41V41.59M647.73 28.41h6M647.73 41.59h6M654.95 43.37V56.63M651.95 43.37h6M651.95 56.63h6M659.16 56.33V69.67M656.16 56.33h6M656.16 69.67h6M663.37 69.29V82.71M660.37 69.29h6M660.37 82.71h6M667.58 80.24V93.76M664.58 80.24h6M664.58 93.76h6M671.79 95.7V109.3M668.79 95.7h6M668.79 109.3h6M676 112.16V125.84M673 112.16h6M673 125.84h6M680.22 123.11V136.89M677.22 123.11h6M677.22 136.89h6M684.43 132.07V145.93M681.43 132.07h6M681.43 145.93h6M688.64 141.03V154.97M685.64 141.03h6M685.64 154.97h6M692.85 146.49V160.51M689.85 146.49h6M689.85 160.51h6M697.06 153.94V168.06M694.06 153.94h6M694.06 168.06h6M701.27 160.9V175.1M698.27 160.9h6M698.27 175.1h6M705.49 166.86V181.14M702.49 166.86h6M702.49 181.14h6M709.7 171.81V186.19M706.7 171.81h6M706.7 186.19h6M713.91 176.77V191.23M710.91 176.77h6M710.91 191.23h6M718.12 181.73V196.27M715.12 181.73h6M715.12 196.27h6M722.33 187.19V201.81M719.33 187.19h6M719.33 201.81h6M726.54 192.64V207.36M723.54 192.64h6M723.54 207.36h6M730.76 197.6V212.4M727.76 197.6h6M727.76 212.4h6M734.97 203.06V217.94M731.97 203.06h6M731.97 217.94h6M739.18 207.51V222.49M736.18 207.51h6M736.18 222.49h6M743.39 210.77V225.83M740.39 210.77h6M740.39 225.83h6M747.6 214.63V229.77M744.6 214.63h6M744.6 229.77h6M751.81 217.59V232.81M748.81 217.59h6M748.81 232.81h6M756.02 219.84V235.16M753.02 219.84h6M753.02 235.16h6M760.24 222.1V237.5M757.24 222.1h6M757.24 237.5h6M764.45 225.96V241.44M761.45 225.96h6M761.45 241.44h6M768.66 228.81V244.39M765.66 228.81h6M765.66 244.39h6M772.87 230.87V246.53M769.87 230.87h6M769.87 246.53h6M777.08 231.93V247.67M774.08 231.93h6M774.08 247.67h6M781.29 232.59V248.41M778.29 232.59h6M778.29 248.41h6M785.51 234.84V250.76M782.51 234.84h6M782.51 250.76h6M789.72 237.8V253.8M786.72 237.8h6M786.72 253.8h6M793.93 240.06V256.14M790.93 240.06h6M790.93 256.14h6M798.14 242.11V258.29M795.14 242.11h6M795.14 258.29h6M802.35 243.87V260.13M799.35 243.87h6M799.35 260.13h6M806.56 245.43V261.77M803.56 245.43h6M803.56 261.77h6M810.78 246.49V262.91M807.78 246.49h6M807.78 262.91h6M814.99 249.04V265.56M811.99 249.04h6M811.99 265.56h6M819.2 249.9V266.5M816.2 249.9h6M816.2 266.5h6M823.41 248.96V265.64M820.41 248.96h6M820.41 265.64h6M827.62 249.81V266.59M824.62 249.81h6M824.62 266.59h6M831.83 250.47V267.33M828.83 250.47h6M828.83 267.33h6M836.05 251.13V268.07M833.05 251.13h6M833.05 268.07h6M840.26 252.69V269.71M837.26 252.69h6M837.26 269.71h6M844.47 254.94V272.06M841.47 254.94h6M841.47 272.06h6M848.68 257.1V274.3M845.68 257.1h6M845.68 274.3h6" stroke="#e69f00" stroke-width="0.68" fill="none"/>
<polyline points="642.31,21.2 646.52,25.5 650.73,35 654.95,50 659.16,63 663.37,76 667.58,87 671.79,102.5 676,119 680.22,130 684.43,139 688.64,148 692.85,153.5 697.06,161 701.27,168 705.49,174 709.7,179 713.91,184 718.12,189 722.33,194.5 726.54,200 730.76,205 734.97,210.5 739.18,215 743.39,218.3 747.6,222.2 751.81,225.2 756.02,227.5 760.24,229.8 764.45,233.7 768.66,236.6 772.87,238.7 777.08,239.8 781.29,240.5 785.51,242.8 789.72,245.8 793.93,248.1 798.14,250.2 802.35,252 806.56,253.6 810.78,254.7 814.99,257.3 819.2,258.2 823.41,257.3 827.62,258.2 831.83,258.9 836.05,259.6 840.26,261.2 844.47,263.5 848.68,265.7" stroke="#e69f00" stroke-width="0.68" fill="none"/>
<path d="M641.21 20.1h2.2v2.2h-2.2zM645.42 24.4h2.2v2.2h-2.2zM649.63 33.9h2.2v2.2h-2.2zM653.85 48.9h2.2v2.2h-2.2zM658.06 61.9h2.2v2.2h-2.2zM662.27 74.9h2.2v2.2h-2.2zM666.48 85.9h2.2v2.2h-2.2zM670.69 101.4h2.2v2.2h-2.2zM674.9 117.9h2.2v2.2h-2.2zM679.12 128.9h2.2v2.2h-2.2zM683.33 137.9h2.2v2.2h-2.2zM687.54 146.9h2.2v2.2h-2.2zM691.75 152.4h2.2v2.2h-2.2zM695.96 159.9h2.2v2.2h-2.2zM700.17 166.9h2.2v2.2h-2.2zM704.39 172.9h2.2v2.2h-2.2zM708.6 177.9h2.2v2.2h-2.2zM712.81 182.9h2.2v2.2h-2.2zM717.02 187.9h2.2v2.2h-2.2zM721.23 193.4h2.2v2.2h-2.2zM725.44 198.9h2.2v2.2h-2.2zM729.66 203.9h2.2v2.2h-2.2zM733.87 209.4h2.2v2.2h-2.2zM738.08 213.9h2.2v2.2h-2.2zM742.29 217.2h2.2v2.2h-2.2zM746.5 221.1h2.2v2.2h-2.2zM750.71 224.1h2.2v2.2h-2.2zM754.92 226.4h2.2v2.2h-2.2zM759.14 228.7h2.2v2.2h-2.2zM763.35 232.6h2.2v2.2h-2.2zM767.56 235.5h2.2v2.2h-2.2zM771.77 237.6h2.2v2.2h-2.2zM775.98 238.7h2.2v2.2h-2.2zM780.19 239.4h2.2v2.2h-2.2zM784.41 241.7h2.2v2.2h-2.2zM788.62 244.7h2.2v2.2h-2.2zM792.83 247h2.2v2.2h-2.2zM797.04 249.1h2.2v2.2h-2.2zM801.25 250.9h2.2v2.2h-2.2zM805.46 252.5h2.2v2.2h-2.2zM809.68 253.6h2.2v2.2h-2.2zM813.89 256.2h2.2v2.2h-2.2zM818.1 257.1h2.2v2.2h-2.2zM822.31 256.2h2.2v2.2h-2.2zM826.52 257.1h2.2v2.2h-2.2zM830.73 257.8h2.2v2.2h-2.2zM834.95 258.5h2.2v2.2h-2.2zM839.16 260.1h2.2v2.2h-2.2zM843.37 262.4h2.2v2.2h-2.2zM847.58 264.6h2.2v2.2h-2.2z" fill="#e69f00"/>
</g>
<line x1="638.1" y1="311.9" x2="848.68" y2="311.9" stroke="#a0a0a0" stroke-width="1.1" stroke-dasharray="8.6 3.2 1.7 3.4" stroke-dashoffset="-0.5"/>
<rect x="638.1" y="10.25" width="210.58" height="305.95" fill="none" stroke="#000" stroke-width="1.4"/>
<text x="639.7" y="330.3" text-anchor="middle">0</text>
<text x="681.82" y="330.3" text-anchor="middle">2</text>
<text x="723.93" y="330.3" text-anchor="middle">4</text>
<text x="766.05" y="330.3" text-anchor="middle">6</text>
<text x="808.16" y="330.3" text-anchor="middle">8</text>
<text x="850.28" y="330.3" text-anchor="middle">10</text>
<text x="631.8" y="297.9" text-anchor="end">0.4</text>
<text x="631.8" y="232.4" text-anchor="end">0.45</text>
<text x="631.8" y="166.9" text-anchor="end">0.5</text>
<text x="631.8" y="101.4" text-anchor="end">0.55</text>
<text x="631.8" y="35.9" text-anchor="end">0.6</text>
<text x="743.5" y="345.1" text-anchor="middle" font-style="italic">t</text>
<g transform="translate(593.8,197.29) rotate(-90)">
<text transform="translate(-1.6,0) scale(1.3,1)">⟨</text>
<text x="6.3" y="0" font-style="italic">r</text>
<text x="5.6" y="-3.2" style="font-size:7px">~</text>
<text transform="translate(8.3,0) scale(1.3,1)">⟩</text>
<text transform="translate(14.7,4.3) scale(1,1.15)" style="font-size:8.2px">highest energy</text>
</g>
<text x="690.7" y="246.4" text-anchor="middle"><tspan font-style="italic">N</tspan><tspan style="font-size:8px;font-weight:bold" dx="3.4" dy="0.3">=</tspan><tspan dx="3.4" dy="-0.3">14</tspan></text>
<text x="693.4" y="256.7" text-anchor="end">GUE</text>
<line x1="699.8" y1="253.1" x2="731" y2="253.1" stroke="#0000ff" stroke-width="1.5" stroke-dasharray="2.2 2.89"/>
<text x="693.4" y="267" text-anchor="end"><tspan font-style="italic">K</tspan><tspan style="font-size:8px;font-weight:bold" dx="3.4" dy="0.3">=</tspan><tspan dx="3.4" dy="-0.3">0.01</tspan></text>
<path d="M699.5 263.4H731M699.5 260.4v6M731 260.4v6" stroke="#9400d3" stroke-width="0.68" fill="none"/>
<rect x="714.5" y="262.65" width="1.5" height="1.5" fill="#9400d3"/>
<text x="693.4" y="277.2" text-anchor="end"><tspan font-style="italic">K</tspan><tspan style="font-size:8px;font-weight:bold" dx="3.4" dy="0.3">=</tspan><tspan dx="3.4" dy="-0.3">0.1</tspan></text>
<path d="M699.5 273.6H731M699.5 270.6v6M731 270.6v6" stroke="#009e73" stroke-width="0.68" fill="none"/>
<rect x="714.25" y="272.6" width="2.0" height="2.0" fill="#009e73"/>
<text x="693.4" y="287.5" text-anchor="end"><tspan font-style="italic">K</tspan><tspan style="font-size:8px;font-weight:bold" dx="3.4" dy="0.3">=</tspan><tspan dx="3.4" dy="-0.3">1</tspan></text>
<path d="M699.5 283.9H731M699.5 280.9v6M731 280.9v6" stroke="#56b4e9" stroke-width="0.68" fill="none"/>
<rect x="714.25" y="282.9" width="2.0" height="2.0" fill="#56b4e9"/>
<text x="693.4" y="297.5" text-anchor="end"><tspan font-style="italic">K</tspan><tspan style="font-size:8px;font-weight:bold" dx="3.4" dy="0.3">=</tspan><tspan dx="3.4" dy="-0.3">10</tspan></text>
<path d="M699.5 293.9H731M699.5 290.9v6M731 290.9v6" stroke="#e69f00" stroke-width="0.68" fill="none"/>
<rect x="714.15" y="292.8" width="2.2" height="2.2" fill="#e69f00"/>
<text x="693.4" y="307.8" text-anchor="end">Poisson</text>
<line x1="699.5" y1="304.2" x2="731" y2="304.2" stroke="#707070" stroke-width="0.7" stroke-dasharray="8.6 3.2 1.7 3.4"/>
</g>
</svg>
</body></html>
